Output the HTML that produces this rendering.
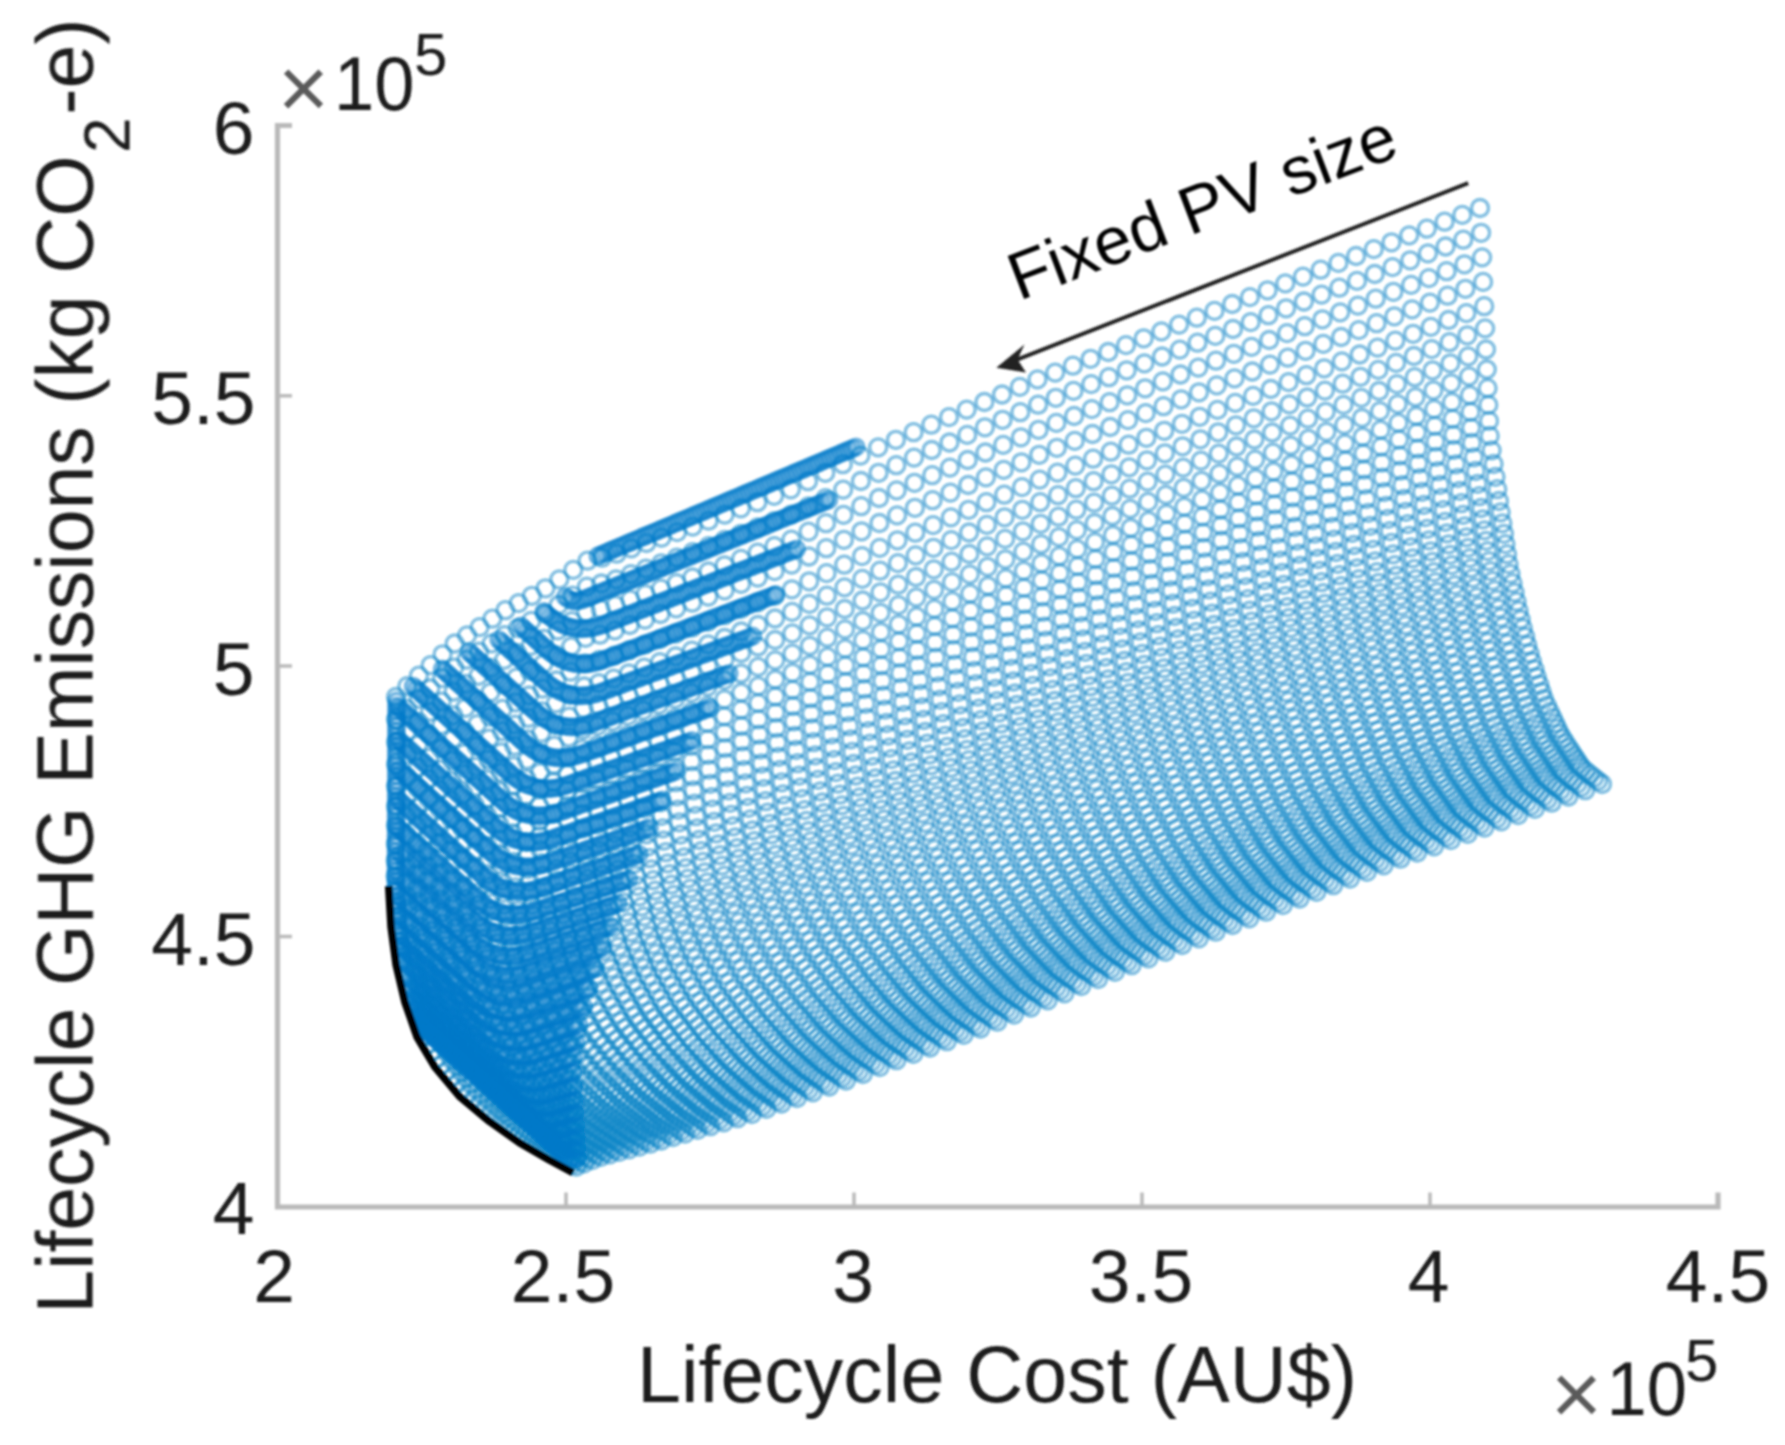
<!DOCTYPE html>
<html lang="en"><head><meta charset="utf-8"><title>Lifecycle GHG Emissions vs Lifecycle Cost</title>
<style>html,body{margin:0;padding:0;background:#fff}svg{display:block}text{font-family:"Liberation Sans",sans-serif;fill:#1a1a1a}.m{fill:none;stroke:none;marker-start:url(#c);marker-mid:url(#c);marker-end:url(#c)}.n{fill:none;stroke:none;marker-start:url(#d);marker-mid:url(#d);marker-end:url(#d)}</style></head><body>
<svg width="1785" height="1445" viewBox="0 0 1785 1445">
<defs><marker id="c" markerUnits="userSpaceOnUse" markerWidth="24" markerHeight="24" refX="12" refY="12" overflow="visible"><circle cx="12" cy="12" r="8.50" fill="none" stroke="#0f86c8" stroke-opacity="0.54" stroke-width="3.30"/></marker><marker id="d" markerUnits="userSpaceOnUse" markerWidth="24" markerHeight="24" refX="12" refY="12" overflow="visible"><circle cx="12" cy="12" r="7.7" fill="none" stroke="#007aca" stroke-opacity="0.54" stroke-width="3.8"/></marker><filter id="bl" x="-2%" y="-2%" width="104%" height="104%"><feGaussianBlur stdDeviation="0.85"/></filter></defs>
<rect width="1785" height="1445" fill="#fff"/>
<g filter="url(#bl)">
<g stroke="#b9b9b9" stroke-width="5.2" fill="none">
<path d="M292 125.5H277.5V1207H1718V1192.5"/>
</g>
<g stroke="#b9b9b9" stroke-width="3.5" fill="none">
<path d="M277.5 395.8H292"/>
<path d="M277.5 666.0H292"/>
<path d="M277.5 936.5H292"/>
<path d="M566.0 1207V1192.5"/>
<path d="M854.0 1207V1192.5"/>
<path d="M1142.0 1207V1192.5"/>
<path d="M1430.0 1207V1192.5"/>
</g>
<g id="sheetA">
<polyline class="m" points="1480.0,208.0 1462.3,214.9 1444.6,221.7 1426.9,228.6 1409.2,235.4 1391.5,242.3 1373.8,249.1 1356.1,256.0 1338.4,262.9 1320.7,269.7 1303.0,276.6 1285.3,283.4 1267.6,290.3 1249.9,297.1 1232.2,304.0 1214.5,310.9 1196.8,317.7 1179.1,324.6 1161.4,331.4 1143.7,338.3 1126.0,345.1 1108.3,352.0 1090.6,358.8 1072.9,365.7 1055.2,372.6 1037.5,379.4 1019.8,386.9 1002.1,394.5 984.4,402.0 966.7,409.6 949.0,417.1 931.3,424.7 913.6,432.2 895.9,439.8 878.2,447.4 860.5,455.6 842.8,464.2 825.3,472.8 808.0,481.2 790.9,489.4 774.1,495.8 757.4,502.2 740.9,508.4 724.7,514.6 708.6,520.7 692.7,526.6 677.1,532.1 661.7,537.6 646.4,543.0 631.4,548.4 616.6,553.7 602.0,557.7 587.5,560.7 573.3,569.9 559.3,579.4 545.5,588.3 531.9,595.8 518.6,603.1 505.4,610.2 492.4,618.7 479.6,627.1 467.1,635.4 454.7,643.5 442.6,654.3 430.6,665.1 418.9,675.7 407.3,686.1 396.0,697.0"/>
<polyline class="m" points="1481.1,232.8 1463.3,239.7 1445.6,246.5 1427.9,253.4 1410.2,260.3 1392.5,267.1 1374.7,274.0 1357.0,280.9 1339.3,287.7 1321.6,294.6 1303.9,301.5 1286.1,308.3 1268.4,315.2 1250.7,322.1 1233.0,329.0 1215.3,335.9 1197.5,342.7 1179.8,349.6 1162.1,356.5 1144.4,363.4 1126.7,370.3 1108.9,377.2 1091.2,384.1 1073.5,390.9 1055.8,397.8 1038.1,404.7 1020.3,412.2 1002.6,419.8 984.9,427.3 967.2,434.9 949.5,442.5 931.7,450.0 914.0,457.6 896.3,465.2 878.6,472.8 860.9,481.0 843.2,489.6 825.6,498.1 808.3,506.5 791.2,514.6 774.2,521.1 757.5,527.5 741.0,533.8 724.6,540.0 708.5,546.2 692.6,552.1 676.8,557.7 661.3,563.3 646.0,568.7 630.9,574.1 616.0,579.4 601.3,583.5 586.9,586.6 572.6,595.6 558.6,605.0 544.8,613.7 531.2,620.9 517.8,628.1 504.7,635.2 491.7,643.4 479.0,651.6 466.5,659.7 454.2,667.6 442.1,678.1 430.3,688.5 418.6,698.8 407.2,708.9 396.0,719.5"/>
<polyline class="m" points="1482.1,257.4 1464.4,264.3 1446.6,271.2 1428.9,278.1 1411.1,284.9 1393.4,291.8 1375.7,298.7 1357.9,305.6 1340.2,312.4 1322.4,319.3 1304.7,326.2 1287.0,333.1 1269.2,340.0 1251.5,346.9 1233.8,353.8 1216.0,360.7 1198.3,367.6 1180.5,374.5 1162.8,381.4 1145.1,388.3 1127.3,395.3 1109.6,402.2 1091.8,409.1 1074.1,416.0 1056.4,422.9 1038.6,429.8 1020.9,437.3 1003.2,444.9 985.4,452.5 967.7,460.0 949.9,467.6 932.2,475.2 914.5,482.8 896.7,490.4 879.0,498.0 861.2,506.2 843.5,514.8 826.0,523.2 808.6,531.6 791.4,539.7 774.4,546.2 757.6,552.6 741.0,558.9 724.6,565.3 708.4,571.5 692.4,577.5 676.5,583.1 660.9,588.7 645.5,594.2 630.3,599.6 615.4,605.0 600.7,609.2 586.2,612.3 571.9,621.1 557.9,630.3 544.1,638.8 530.5,646.0 517.1,653.0 504.0,659.9 491.1,667.9 478.4,675.9 466.0,683.8 453.7,691.5 441.7,701.7 430.0,711.8 418.4,721.8 407.1,731.6 396.0,741.9"/>
<polyline class="m" points="1483.1,281.9 1465.4,288.8 1447.6,295.7 1429.9,302.6 1412.1,309.4 1394.3,316.3 1376.6,323.2 1358.8,330.1 1341.1,337.0 1323.3,343.9 1305.6,350.8 1287.8,357.7 1270.0,364.6 1252.3,371.5 1234.5,378.4 1216.8,385.4 1199.0,392.3 1181.2,399.3 1163.5,406.2 1145.7,413.1 1128.0,420.1 1110.2,427.0 1092.5,434.0 1074.7,440.9 1056.9,447.8 1039.2,454.8 1021.4,462.3 1003.7,469.9 985.9,477.4 968.2,485.0 950.4,492.6 932.6,500.2 914.9,507.8 897.1,515.4 879.4,523.0 861.6,531.3 843.9,539.8 826.3,548.2 808.9,556.5 791.7,564.6 774.6,571.1 757.8,577.6 741.1,583.9 724.6,590.3 708.3,596.6 692.2,602.7 676.2,608.4 660.5,614.0 645.0,619.6 629.8,625.0 614.8,630.4 600.0,634.7 585.5,637.9 571.2,646.5 557.2,655.5 543.4,663.8 529.8,670.8 516.4,677.7 503.3,684.5 490.5,692.3 477.8,700.1 465.4,707.8 453.3,715.3 441.3,725.1 429.6,734.9 418.2,744.6 407.0,754.2 396.0,764.1"/>
<polyline class="m" points="1484.2,306.2 1466.4,313.1 1448.6,320.0 1430.8,326.9 1413.1,333.8 1395.3,340.7 1377.5,347.6 1359.7,354.5 1341.9,361.4 1324.2,368.3 1306.4,375.2 1288.6,382.1 1270.8,389.0 1253.1,395.9 1235.3,402.9 1217.5,409.9 1199.7,416.8 1182.0,423.8 1164.2,430.8 1146.4,437.8 1128.6,444.7 1110.8,451.7 1093.1,458.7 1075.3,465.6 1057.5,472.6 1039.7,479.6 1022.0,487.1 1004.2,494.7 986.4,502.2 968.6,509.8 950.9,517.4 933.1,525.1 915.3,532.7 897.5,540.3 879.7,547.9 862.0,556.1 844.2,564.7 826.6,573.1 809.2,581.3 791.9,589.3 774.8,595.9 757.9,602.3 741.2,608.8 724.6,615.2 708.2,621.6 692.0,627.7 675.9,633.5 660.1,639.1 644.6,644.7 629.3,650.2 614.2,655.6 599.4,660.0 584.9,663.3 570.5,671.7 556.5,680.5 542.6,688.6 529.1,695.5 515.7,702.3 502.6,708.9 489.8,716.5 477.2,724.1 464.9,731.6 452.8,738.9 440.9,748.4 429.3,757.8 418.0,767.3 406.9,776.6 396.0,786.2"/>
<polyline class="m" points="1485.1,328.4 1467.3,335.3 1449.5,342.2 1431.7,349.1 1413.9,356.0 1396.1,362.9 1378.3,369.9 1360.5,376.8 1342.7,383.7 1324.9,390.6 1307.2,397.5 1289.4,404.4 1271.6,411.3 1253.8,418.3 1236.0,425.3 1218.2,432.3 1200.4,439.3 1182.6,446.3 1164.8,453.3 1147.0,460.3 1129.2,467.3 1111.4,474.3 1093.6,481.2 1075.8,488.2 1058.0,495.2 1040.2,502.2 1022.4,509.8 1004.6,517.3 986.9,524.9 969.1,532.5 951.3,540.1 933.5,547.8 915.7,555.4 897.9,563.1 880.1,570.7 862.3,578.9 844.5,587.4 826.9,595.7 809.4,603.9 792.1,611.9 775.0,618.5 758.0,625.0 741.2,631.5 724.6,638.0 708.1,644.4 691.8,650.6 675.7,656.4 659.8,662.1 644.2,667.7 628.8,673.3 613.7,678.7 598.8,683.1 584.2,686.5 569.9,694.8 555.8,703.3 542.0,711.3 528.4,718.0 515.1,724.7 502.0,731.2 489.2,738.7 476.6,746.1 464.4,753.3 452.3,760.5 440.5,769.7 429.0,778.8 417.7,788.0 406.7,797.0 396.0,806.4"/>
<polyline class="m" points="1486.0,349.5 1468.2,356.4 1450.4,363.3 1432.6,370.3 1414.7,377.2 1396.9,384.1 1379.1,391.0 1361.3,397.9 1343.5,404.9 1325.7,411.8 1307.9,418.7 1290.1,425.6 1272.2,432.5 1254.4,439.5 1236.6,446.5 1218.8,453.6 1201.0,460.6 1183.2,467.6 1165.4,474.6 1147.6,481.6 1129.7,488.7 1111.9,495.7 1094.1,502.7 1076.3,509.7 1058.5,516.7 1040.7,523.8 1022.9,531.3 1005.1,538.9 987.2,546.4 969.4,554.0 951.6,561.7 933.8,569.3 916.0,577.0 898.2,584.7 880.4,592.3 862.6,600.5 844.7,609.0 827.1,617.3 809.6,625.4 792.3,633.4 775.1,640.0 758.1,646.5 741.2,653.0 724.5,659.6 708.0,666.1 691.6,672.3 675.4,678.1 659.4,683.9 643.7,689.6 628.3,695.1 613.1,700.6 598.2,705.1 583.6,708.6 569.2,716.7 555.1,725.0 541.3,732.8 527.7,739.5 514.4,746.0 501.3,752.4 488.6,759.7 476.0,766.9 463.8,774.0 451.8,781.0 440.1,789.9 428.6,798.7 417.5,807.7 406.5,816.5 395.9,825.6"/>
<polyline class="m" points="1486.8,369.5 1469.0,376.4 1451.2,383.3 1433.4,390.3 1415.5,397.2 1397.7,404.1 1379.9,411.1 1362.0,418.0 1344.2,424.9 1326.4,431.8 1308.5,438.8 1290.7,445.7 1272.9,452.6 1255.1,459.6 1237.2,466.7 1219.4,473.7 1201.6,480.8 1183.7,487.8 1165.9,494.9 1148.1,501.9 1130.2,508.9 1112.4,516.0 1094.6,523.0 1076.8,530.1 1058.9,537.1 1041.1,544.2 1023.3,551.7 1005.4,559.3 987.6,566.8 969.8,574.4 952.0,582.1 934.1,589.8 916.3,597.4 898.5,605.1 880.6,612.8 862.8,621.0 845.0,629.4 827.3,637.7 809.8,645.8 792.4,653.7 775.2,660.4 758.1,666.9 741.2,673.5 724.4,680.1 707.8,686.6 691.4,692.9 675.1,698.8 659.0,704.6 643.3,710.3 627.8,715.9 612.6,721.4 597.6,725.9 583.0,729.5 568.6,737.4 554.4,745.6 540.6,753.2 527.0,759.8 513.7,766.2 500.7,772.5 488.0,779.7 475.5,786.7 463.3,793.6 451.3,800.4 439.7,809.0 428.3,817.6 417.2,826.3 406.4,834.9 395.8,843.8"/>
<polyline class="m" points="1487.6,388.2 1469.8,395.2 1451.9,402.1 1434.1,409.1 1416.3,416.0 1398.4,422.9 1380.6,429.9 1362.7,436.8 1344.9,443.7 1327.0,450.7 1309.2,457.6 1291.3,464.5 1273.5,471.5 1255.6,478.5 1237.8,485.6 1220.0,492.6 1202.1,499.7 1184.3,506.8 1166.4,513.8 1148.6,520.9 1130.7,528.0 1112.9,535.0 1095.0,542.1 1077.2,549.1 1059.3,556.2 1041.5,563.3 1023.7,570.8 1005.8,578.4 988.0,586.0 970.1,593.6 952.3,601.2 934.4,608.9 916.6,616.6 898.7,624.3 880.9,632.0 863.0,640.2 845.2,648.6 827.5,656.9 809.9,664.9 792.5,672.8 775.3,679.5 758.2,686.1 741.2,692.6 724.4,699.3 707.7,705.9 691.2,712.2 674.8,718.1 658.7,724.0 642.9,729.7 627.3,735.3 612.1,740.9 597.1,745.5 582.4,749.1 568.0,756.9 553.8,764.9 540.0,772.4 526.4,778.8 513.1,785.2 500.1,791.4 487.4,798.4 474.9,805.2 462.8,812.0 450.9,818.6 439.3,827.0 428.0,835.3 416.9,843.8 406.2,852.2 395.7,860.8"/>
<polyline class="m" points="1488.3,404.9 1470.5,411.9 1452.6,418.8 1434.8,425.8 1416.9,432.7 1399.0,439.6 1381.2,446.6 1363.3,453.5 1345.5,460.5 1327.6,467.4 1309.7,474.4 1291.9,481.3 1274.0,488.3 1256.2,495.3 1238.3,502.4 1220.4,509.5 1202.6,516.6 1184.7,523.6 1166.9,530.7 1149.0,537.8 1131.1,544.9 1113.3,552.0 1095.4,559.0 1077.6,566.1 1059.7,573.2 1041.8,580.3 1024.0,587.9 1006.1,595.4 988.3,603.0 970.4,610.6 952.5,618.3 934.7,626.0 916.8,633.7 899.0,641.4 881.1,649.1 863.3,657.3 845.4,665.7 827.7,673.9 810.1,681.9 792.7,689.8 775.4,696.5 758.2,703.1 741.2,709.7 724.3,716.4 707.6,723.0 691.0,729.4 674.5,735.3 658.4,741.2 642.5,747.0 626.9,752.6 611.6,758.2 596.6,762.9 581.9,766.5 567.4,774.2 553.3,782.0 539.4,789.4 525.9,795.8 512.6,802.0 499.6,808.1 486.9,815.0 474.5,821.7 462.3,828.3 450.5,834.8 439.0,843.0 427.7,851.1 416.7,859.4 406.0,867.5 395.6,876.0"/>
<polyline class="m" points="1489.0,420.9 1471.1,427.8 1453.3,434.8 1435.4,441.7 1417.5,448.7 1399.7,455.6 1381.8,462.6 1363.9,469.5 1346.1,476.5 1328.2,483.4 1310.3,490.4 1292.5,497.3 1274.6,504.3 1256.7,511.3 1238.9,518.4 1221.0,525.5 1203.1,532.6 1185.3,539.7 1167.4,546.8 1149.5,553.9 1131.6,561.0 1113.8,568.1 1095.9,575.2 1078.0,582.3 1060.2,589.4 1042.3,596.6 1024.4,604.1 1006.6,611.7 988.7,619.3 970.8,626.8 953.0,634.6 935.1,642.3 917.2,650.0 899.4,657.7 881.5,665.4 863.6,673.6 845.7,682.0 828.0,690.2 810.4,698.2 793.0,706.0 775.6,712.7 758.4,719.4 741.4,726.0 724.5,732.7 707.7,739.4 691.0,745.8 674.5,751.8 658.3,757.7 642.4,763.5 626.7,769.2 611.4,774.7 596.4,779.5 581.6,783.1 567.2,790.7 553.0,798.4 539.1,805.7 525.6,812.0 512.3,818.1 499.3,824.1 486.7,830.9 474.3,837.5 462.2,843.9 450.4,850.3 438.9,858.2 427.7,866.1 416.8,874.2 406.2,882.2 395.9,890.4"/>
<polyline class="m" points="1489.7,435.9 1471.8,442.9 1453.9,449.8 1436.1,456.8 1418.2,463.7 1400.3,470.7 1382.5,477.7 1364.6,484.6 1346.7,491.6 1328.9,498.5 1311.0,505.5 1293.1,512.4 1275.3,519.4 1257.4,526.5 1239.5,533.6 1221.6,540.7 1203.8,547.8 1185.9,554.9 1168.0,562.1 1150.2,569.2 1132.3,576.3 1114.4,583.4 1096.6,590.5 1078.7,597.7 1060.8,604.8 1043.0,611.9 1025.1,619.5 1007.2,627.0 989.4,634.6 971.5,642.2 953.6,649.9 935.8,657.6 917.9,665.4 900.0,673.1 882.2,680.8 864.3,689.0 846.4,697.3 828.7,705.5 811.1,713.5 793.6,721.3 776.3,728.0 759.1,734.7 742.0,741.3 725.0,748.1 708.2,754.8 691.5,761.2 674.9,767.3 658.7,773.2 642.7,779.0 627.0,784.7 611.7,790.3 596.6,795.1 581.9,798.9 567.4,806.3 553.3,813.9 539.4,821.0 525.9,827.2 512.6,833.3 499.7,839.2 487.0,845.8 474.7,852.3 462.6,858.7 450.9,864.9 439.4,872.6 428.3,880.3 417.5,888.3 406.9,896.1 396.7,904.1"/>
<polyline class="m" points="1491.6,450.4 1473.8,457.3 1455.9,464.3 1438.0,471.2 1420.1,478.2 1402.2,485.2 1384.3,492.1 1366.4,499.1 1348.5,506.1 1330.6,513.0 1312.8,520.0 1294.9,527.0 1277.0,533.9 1259.1,541.0 1241.2,548.2 1223.3,555.3 1205.4,562.4 1187.5,569.6 1169.7,576.7 1151.8,583.8 1133.9,591.0 1116.0,598.1 1098.1,605.2 1080.2,612.4 1062.3,619.5 1044.4,626.7 1026.6,634.2 1008.7,641.8 990.8,649.4 972.9,657.0 955.0,664.7 937.1,672.4 919.2,680.2 901.3,687.9 883.5,695.7 865.6,703.8 847.7,712.2 829.9,720.3 812.3,728.3 794.8,736.0 777.4,742.8 760.1,749.5 743.0,756.1 726.0,762.9 709.1,769.7 692.3,776.2 675.7,782.2 659.4,788.2 643.4,794.0 627.7,799.8 612.3,805.4 597.2,810.2 582.4,814.0 567.9,821.3 553.7,828.8 539.9,835.8 526.3,842.0 513.1,847.9 500.1,853.8 487.5,860.3 475.2,866.7 463.1,872.9 451.4,879.0 440.0,886.5 428.9,894.0 418.1,901.8 407.7,909.5 397.5,917.3"/>
<polyline class="m" points="1493.6,464.0 1475.7,471.0 1457.8,478.0 1439.9,484.9 1422.0,491.9 1404.1,498.9 1386.2,505.8 1368.3,512.8 1350.4,519.8 1332.5,526.8 1314.6,533.7 1296.7,540.7 1278.8,547.7 1260.9,554.8 1243.0,561.9 1225.0,569.1 1207.1,576.2 1189.2,583.4 1171.3,590.5 1153.4,597.7 1135.5,604.9 1117.6,612.0 1099.7,619.2 1081.8,626.3 1063.9,633.5 1046.0,640.6 1028.1,648.2 1010.2,655.8 992.3,663.3 974.4,670.9 956.5,678.7 938.6,686.4 920.7,694.2 902.8,701.9 884.9,709.7 867.0,717.8 849.0,726.2 831.3,734.3 813.6,742.2 796.1,750.0 778.6,756.8 761.3,763.5 744.2,770.1 727.1,777.0 710.2,783.8 693.4,790.3 676.7,796.4 660.3,802.4 644.2,808.3 628.5,814.0 613.0,819.7 597.9,824.5 583.1,828.4 568.6,835.6 554.4,842.9 540.5,849.9 527.0,855.9 513.7,861.8 500.8,867.6 488.2,874.0 475.9,880.2 463.9,886.3 452.2,892.3 440.8,899.7 429.8,907.0 419.0,914.6 408.6,922.1 398.5,929.8"/>
<polyline class="m" points="1495.5,476.9 1477.6,483.9 1459.7,490.9 1441.8,497.9 1423.9,504.9 1405.9,511.8 1388.0,518.8 1370.1,525.8 1352.2,532.8 1334.3,539.7 1316.4,546.7 1298.5,553.7 1280.6,560.7 1262.6,567.8 1244.7,575.0 1226.8,582.1 1208.9,589.3 1191.0,596.5 1173.1,603.6 1155.2,610.8 1137.3,618.0 1119.4,625.1 1101.4,632.3 1083.5,639.5 1065.6,646.6 1047.7,653.8 1029.8,661.4 1011.9,669.0 994.0,676.6 976.1,684.2 958.1,691.9 940.2,699.7 922.3,707.4 904.4,715.2 886.5,723.0 868.6,731.1 850.7,739.4 832.9,747.6 815.2,755.4 797.6,763.2 780.2,769.9 762.9,776.7 745.7,783.4 728.6,790.3 711.6,797.1 694.7,803.6 678.0,809.7 661.6,815.8 645.5,821.7 629.7,827.4 614.2,833.1 599.1,838.0 584.2,841.9 569.7,849.0 555.5,856.2 541.6,863.1 528.1,869.0 514.9,874.9 501.9,880.6 489.3,886.9 477.1,893.0 465.1,899.0 453.5,904.9 442.1,912.1 431.1,919.2 420.4,926.7 410.1,934.0 400.0,941.6"/>
<polyline class="m" points="1497.3,489.2 1479.4,496.2 1461.4,503.2 1443.5,510.1 1425.6,517.1 1407.7,524.1 1389.8,531.1 1371.8,538.1 1353.9,545.0 1336.0,552.0 1318.1,559.0 1300.2,566.0 1282.3,573.0 1264.3,580.1 1246.4,587.3 1228.5,594.5 1210.6,601.7 1192.7,608.8 1174.7,616.0 1156.8,623.2 1138.9,630.4 1121.0,637.6 1103.1,644.8 1085.2,651.9 1067.2,659.1 1049.3,666.3 1031.4,673.9 1013.5,681.5 995.6,689.0 977.6,696.7 959.7,704.4 941.8,712.2 923.9,720.0 906.0,727.7 888.1,735.5 870.1,743.6 852.2,751.9 834.4,760.1 816.7,767.9 799.1,775.6 781.7,782.4 764.3,789.2 747.1,795.9 730.0,802.8 712.9,809.7 696.0,816.2 679.2,822.4 662.8,828.4 646.6,834.3 630.8,840.1 615.3,845.8 600.1,850.8 585.3,854.7 570.8,861.7 556.6,868.8 542.7,875.6 529.2,881.5 515.9,887.3 503.0,892.9 490.4,899.1 478.2,905.1 466.3,911.0 454.6,916.8 443.4,923.8 432.4,930.8 421.8,938.1 411.5,945.3 401.5,952.7"/>
<polyline class="m" points="1499.0,501.0 1481.1,508.0 1463.2,514.9 1445.2,521.9 1427.3,528.9 1409.4,535.9 1391.5,542.9 1373.5,549.9 1355.6,556.9 1337.7,563.9 1319.8,570.9 1301.8,577.8 1283.9,584.8 1266.0,592.0 1248.1,599.2 1230.1,606.4 1212.2,613.6 1194.3,620.8 1176.4,628.0 1158.4,635.2 1140.5,642.4 1122.6,649.5 1104.7,656.7 1086.7,663.9 1068.8,671.1 1050.9,678.4 1033.0,685.9 1015.1,693.5 997.1,701.1 979.2,708.7 961.3,716.5 943.4,724.2 925.4,732.0 907.5,739.8 889.6,747.6 871.7,755.7 853.7,764.0 835.9,772.1 818.2,779.9 800.6,787.6 783.1,794.4 765.7,801.2 748.5,807.9 731.3,814.9 714.3,821.8 697.3,828.4 680.5,834.6 664.0,840.6 647.8,846.6 631.9,852.4 616.4,858.1 601.2,863.1 586.4,867.0 571.8,873.9 557.6,881.0 543.8,887.6 530.2,893.5 517.0,899.2 504.1,904.8 491.5,910.9 479.3,916.8 467.4,922.6 455.8,928.2 444.6,935.1 433.7,941.9 423.1,949.1 412.8,956.2 402.9,963.4"/>
<polyline class="m" points="1500.7,512.3 1482.8,519.3 1464.9,526.3 1447.0,533.3 1429.1,540.3 1411.1,547.3 1393.2,554.3 1375.3,561.3 1357.4,568.3 1339.5,575.2 1321.6,582.2 1303.7,589.2 1285.7,596.2 1267.8,603.4 1249.9,610.6 1232.0,617.8 1214.1,625.0 1196.2,632.2 1178.3,639.4 1160.3,646.6 1142.4,653.8 1124.5,661.0 1106.6,668.2 1088.7,675.4 1070.8,682.6 1052.9,689.9 1034.9,697.4 1017.0,705.0 999.1,712.6 981.2,720.2 963.3,728.0 945.4,735.8 927.5,743.6 909.5,751.3 891.6,759.1 873.7,767.2 855.8,775.5 838.0,783.6 820.3,791.4 802.7,799.1 785.2,805.9 767.8,812.7 750.5,819.4 733.3,826.4 716.3,833.3 699.3,840.0 682.4,846.2 665.9,852.2 649.7,858.2 633.8,864.0 618.3,869.7 603.1,874.8 588.2,878.8 573.7,885.6 559.5,892.5 545.6,899.1 532.1,904.9 518.9,910.5 506.1,916.0 493.5,922.1 481.3,927.9 469.5,933.6 457.9,939.1 446.7,945.8 435.9,952.5 425.3,959.6 415.1,966.5 405.3,973.6"/>
<polyline class="m" points="1502.4,523.3 1484.5,530.3 1466.6,537.3 1448.7,544.3 1430.8,551.3 1412.9,558.3 1394.9,565.2 1377.0,572.2 1359.1,579.2 1341.2,586.2 1323.3,593.2 1305.4,600.2 1287.5,607.2 1269.6,614.4 1251.7,621.6 1233.8,628.8 1215.9,636.0 1198.0,643.2 1180.1,650.4 1162.2,657.7 1144.3,664.9 1126.4,672.1 1108.5,679.3 1090.6,686.5 1072.7,693.7 1054.8,701.0 1036.8,708.5 1018.9,716.1 1001.0,723.7 983.1,731.3 965.2,739.1 947.3,746.9 929.4,754.7 911.5,762.5 893.6,770.3 875.7,778.4 857.8,786.6 840.0,794.7 822.3,802.5 804.7,810.1 787.2,817.0 769.8,823.8 752.5,830.5 735.3,837.5 718.2,844.5 701.2,851.1 684.3,857.3 667.7,863.4 651.5,869.4 635.7,875.3 620.1,881.0 604.9,886.0 590.0,890.1 575.5,896.8 561.3,903.7 547.5,910.1 533.9,915.8 520.8,921.4 507.9,926.9 495.4,932.8 483.3,938.6 471.4,944.1 459.9,949.6 448.8,956.2 438.0,962.7 427.5,969.6 417.4,976.4 407.6,983.4"/>
<polyline class="m" points="1504.0,533.8 1486.1,540.8 1468.2,547.8 1450.3,554.8 1432.4,561.8 1414.5,568.8 1396.6,575.8 1378.7,582.8 1360.8,589.8 1342.9,596.8 1325.0,603.8 1307.1,610.8 1289.2,617.8 1271.3,625.0 1253.4,632.2 1235.5,639.4 1217.6,646.6 1199.7,653.9 1181.8,661.1 1164.0,668.3 1146.1,675.5 1128.2,682.8 1110.3,690.0 1092.4,697.2 1074.5,704.4 1056.6,711.7 1038.7,719.3 1020.8,726.8 1002.9,734.4 985.0,742.0 967.1,749.8 949.2,757.6 931.3,765.4 913.4,773.2 895.5,781.0 877.6,789.1 859.7,797.4 841.9,805.4 824.2,813.1 806.6,820.8 789.1,827.6 771.7,834.4 754.4,841.2 737.2,848.2 720.1,855.2 703.0,861.9 686.1,868.1 669.5,874.2 653.3,880.2 637.4,886.1 621.8,891.8 606.6,896.9 591.8,901.0 577.2,907.6 563.1,914.4 549.2,920.8 535.7,926.4 522.5,932.0 509.7,937.4 497.3,943.2 485.1,948.8 473.3,954.3 461.9,959.7 450.8,966.1 440.0,972.5 429.6,979.3 419.5,986.0 409.8,992.8"/>
<polyline class="m" points="1505.5,544.1 1487.7,551.1 1469.8,558.1 1451.9,565.1 1434.0,572.1 1416.1,579.1 1398.2,586.1 1380.3,593.1 1362.5,600.1 1344.6,607.1 1326.7,614.1 1308.8,621.1 1290.9,628.1 1273.0,635.3 1255.2,642.5 1237.3,649.7 1219.4,657.0 1201.5,664.2 1183.6,671.4 1165.7,678.7 1147.9,685.9 1130.0,693.1 1112.1,700.4 1094.2,707.6 1076.3,714.8 1058.4,722.1 1040.6,729.7 1022.7,737.2 1004.8,744.8 986.9,752.4 969.0,760.2 951.1,768.0 933.3,775.8 915.4,783.6 897.5,791.4 879.6,799.5 861.7,807.7 843.9,815.8 826.2,823.5 808.6,831.1 791.1,837.9 773.7,844.8 756.4,851.6 739.2,858.6 722.0,865.6 705.0,872.3 688.0,878.6 671.4,884.7 655.2,890.7 639.3,896.6 623.7,902.3 608.5,907.5 593.6,911.5 579.1,918.1 564.9,924.8 551.1,931.1 537.6,936.7 524.5,942.2 511.7,947.5 499.2,953.3 487.1,958.8 475.4,964.2 464.0,969.5 452.9,975.8 442.2,982.0 431.8,988.7 421.8,995.3 412.1,1001.9"/>
<polyline class="m" points="1507.1,554.2 1489.2,561.2 1471.3,568.2 1453.5,575.2 1435.6,582.2 1417.8,589.2 1399.9,596.2 1382.0,603.2 1364.2,610.2 1346.3,617.1 1328.5,624.1 1310.6,631.1 1292.7,638.1 1274.9,645.3 1257.0,652.6 1239.2,659.8 1221.3,667.0 1203.4,674.3 1185.6,681.5 1167.7,688.7 1149.9,696.0 1132.0,703.2 1114.1,710.5 1096.3,717.7 1078.4,724.9 1060.6,732.2 1042.7,739.8 1024.8,747.3 1007.0,754.9 989.1,762.5 971.3,770.3 953.4,778.1 935.5,785.9 917.7,793.7 899.8,801.5 882.0,809.6 864.1,817.8 846.3,825.8 828.6,833.5 811.1,841.1 793.6,847.9 776.1,854.8 758.8,861.6 741.6,868.7 724.5,875.7 707.4,882.4 690.4,888.7 673.8,894.8 657.6,900.8 641.7,906.7 626.1,912.5 610.9,917.6 596.0,921.7 581.5,928.2 567.4,934.8 553.6,941.0 540.1,946.6 527.0,952.0 514.2,957.3 501.8,963.0 489.8,968.4 478.1,973.7 466.7,978.9 455.7,985.1 445.0,991.1 434.7,997.7 424.8,1004.2 415.2,1010.7"/>
<polyline class="m" points="1508.6,564.1 1490.7,571.1 1472.9,578.1 1455.0,585.1 1437.2,592.0 1419.4,599.0 1401.5,606.0 1383.7,613.0 1365.9,620.0 1348.0,627.0 1330.2,634.0 1312.3,641.0 1294.5,648.0 1276.7,655.2 1258.8,662.4 1241.0,669.7 1223.2,676.9 1205.3,684.1 1187.5,691.4 1169.7,698.6 1151.8,705.9 1134.0,713.1 1116.1,720.4 1098.3,727.6 1080.5,734.8 1062.6,742.1 1044.8,749.7 1027.0,757.2 1009.1,764.8 991.3,772.4 973.4,780.2 955.6,788.0 937.8,795.8 919.9,803.6 902.1,811.4 884.3,819.5 866.4,827.7 848.7,835.7 831.0,843.3 813.4,850.9 795.9,857.7 778.5,864.6 761.2,871.4 744.0,878.5 726.8,885.5 709.8,892.3 692.8,898.6 676.2,904.7 659.9,910.7 644.0,916.6 628.5,922.4 613.2,927.6 598.4,931.7 583.9,938.1 569.8,944.6 556.0,950.8 542.5,956.2 529.5,961.6 516.7,966.8 504.4,972.4 492.3,977.8 480.7,983.0 469.4,988.1 458.4,994.1 447.8,1000.1 437.6,1006.5 427.7,1012.9 418.1,1019.3"/>
<polyline class="m" points="1510.5,573.8 1492.7,580.8 1474.8,587.7 1457.0,594.7 1439.2,601.7 1421.4,608.7 1403.6,615.7 1385.7,622.7 1367.9,629.7 1350.1,636.7 1332.3,643.7 1314.4,650.7 1296.6,657.6 1278.8,664.8 1261.0,672.1 1243.2,679.3 1225.3,686.6 1207.5,693.8 1189.7,701.1 1171.9,708.3 1154.1,715.6 1136.2,722.8 1118.4,730.1 1100.6,737.3 1082.8,744.6 1064.9,751.9 1047.1,759.4 1029.3,767.0 1011.5,774.5 993.7,782.1 975.8,789.9 958.0,797.7 940.2,805.5 922.4,813.3 904.5,821.1 886.7,829.2 868.9,837.4 851.2,845.3 833.5,853.0 815.9,860.5 798.4,867.4 781.0,874.2 763.7,881.1 746.5,888.2 729.3,895.3 712.2,902.0 695.2,908.3 678.6,914.5 662.3,920.5 646.4,926.4 630.9,932.2 615.7,937.4 600.8,941.6 586.3,947.9 572.2,954.3 558.4,960.4 545.0,965.8 531.9,971.1 519.2,976.3 506.9,981.8 494.9,987.0 483.3,992.2 472.0,997.2 461.1,1003.1 450.6,1008.9 440.4,1015.2 430.5,1021.5 421.0,1027.7"/>
<polyline class="m" points="1512.6,583.2 1494.8,590.2 1477.0,597.2 1459.2,604.2 1441.4,611.2 1423.6,618.2 1405.8,625.2 1388.0,632.1 1370.2,639.1 1352.4,646.1 1334.6,653.1 1316.8,660.1 1299.0,667.1 1281.2,674.3 1263.4,681.5 1245.6,688.8 1227.8,696.0 1209.9,703.3 1192.1,710.5 1174.3,717.8 1156.5,725.0 1138.7,732.3 1120.9,739.5 1103.1,746.8 1085.3,754.0 1067.5,761.3 1049.7,768.9 1031.9,776.4 1014.1,784.0 996.3,791.5 978.5,799.3 960.7,807.2 942.9,815.0 925.1,822.8 907.3,830.6 889.5,838.6 871.7,846.8 854.0,854.7 836.4,862.3 818.8,869.8 801.3,876.7 783.9,883.6 766.6,890.4 749.3,897.5 732.2,904.6 715.1,911.4 698.1,917.7 681.4,923.9 665.2,929.9 649.2,935.9 633.7,941.6 618.5,946.9 603.6,951.1 589.2,957.3 575.0,963.6 561.3,969.6 547.9,975.0 534.9,980.2 522.2,985.3 509.9,990.8 497.9,995.9 486.4,1001.0 475.1,1005.9 464.3,1011.7 453.8,1017.3 443.6,1023.6 433.9,1029.7 424.4,1035.8"/>
<polyline class="m" points="1514.6,592.5 1496.9,599.5 1479.1,606.5 1461.3,613.5 1443.6,620.4 1425.8,627.4 1408.0,634.4 1390.3,641.4 1372.5,648.3 1354.7,655.3 1337.0,662.3 1319.2,669.2 1301.4,676.2 1283.7,683.4 1265.9,690.7 1248.2,697.9 1230.4,705.1 1212.6,712.4 1194.9,719.6 1177.1,726.9 1159.3,734.1 1141.6,741.4 1123.8,748.6 1106.0,755.9 1088.3,763.1 1070.5,770.4 1052.8,777.9 1035.0,785.5 1017.2,793.0 999.5,800.6 981.7,808.4 963.9,816.1 946.2,823.9 928.4,831.7 910.6,839.5 892.9,847.5 875.1,855.7 857.4,863.6 839.8,871.2 822.3,878.7 804.8,885.5 787.4,892.4 770.1,899.2 752.9,906.4 735.7,913.5 718.7,920.2 701.7,926.6 685.0,932.7 668.7,938.8 652.8,944.7 637.3,950.5 622.1,955.7 607.3,960.0 592.8,966.1 578.7,972.3 565.0,978.2 551.7,983.5 538.7,988.7 526.1,993.8 513.8,999.1 501.9,1004.2 490.4,1009.2 479.2,1014.0 468.4,1019.6 457.9,1025.2 447.9,1031.3 438.2,1037.3 428.8,1043.3"/>
<polyline class="m" points="1516.6,601.7 1498.9,608.6 1481.2,615.6 1463.4,622.6 1445.7,629.5 1428.0,636.5 1410.3,643.4 1392.5,650.4 1374.8,657.4 1357.1,664.3 1339.4,671.3 1321.6,678.2 1303.9,685.2 1286.2,692.4 1268.4,699.6 1250.7,706.9 1233.0,714.1 1215.3,721.4 1197.5,728.6 1179.8,735.8 1162.1,743.1 1144.4,750.3 1126.6,757.6 1108.9,764.8 1091.2,772.0 1073.4,779.3 1055.7,786.8 1038.0,794.3 1020.3,801.9 1002.5,809.4 984.8,817.2 967.1,825.0 949.3,832.8 931.6,840.6 913.9,848.3 896.2,856.3 878.4,864.5 860.8,872.3 843.2,879.9 825.7,887.3 808.3,894.2 790.9,901.1 773.6,907.9 756.4,915.0 739.2,922.1 722.2,928.9 705.2,935.2 688.5,941.4 672.3,947.5 656.4,953.4 640.8,959.2 625.7,964.5 610.9,968.7 596.4,974.8 582.4,980.9 568.7,986.7 555.4,992.0 542.4,997.1 529.8,1002.1 517.6,1007.3 505.8,1012.3 494.3,1017.2 483.2,1021.9 472.4,1027.4 462.0,1032.8 452.0,1038.8 442.4,1044.7 433.1,1050.6"/>
<polyline class="m" points="1518.6,610.7 1500.9,617.6 1483.2,624.6 1465.5,631.5 1447.8,638.5 1430.1,645.4 1412.5,652.4 1394.8,659.3 1377.1,666.3 1359.4,673.2 1341.7,680.2 1324.0,687.1 1306.3,694.1 1288.6,701.2 1270.9,708.5 1253.2,715.7 1235.5,722.9 1217.9,730.2 1200.2,737.4 1182.5,744.6 1164.8,751.9 1147.1,759.1 1129.4,766.3 1111.7,773.6 1094.0,780.8 1076.3,788.1 1058.6,795.6 1040.9,803.1 1023.2,810.6 1005.6,818.1 987.9,825.9 970.2,833.7 952.5,841.5 934.8,849.2 917.1,857.0 899.4,865.0 881.7,873.1 864.1,880.9 846.5,888.4 829.1,895.9 811.6,902.7 794.3,909.6 777.0,916.4 759.8,923.6 742.7,930.7 725.6,937.5 708.6,943.8 692.0,950.0 675.7,956.1 659.8,962.0 644.3,967.8 629.2,973.0 614.4,977.3 600.0,983.3 586.0,989.3 572.3,995.0 559.0,1000.2 546.1,1005.3 533.6,1010.2 521.4,1015.4 509.6,1020.3 498.1,1025.1 487.1,1029.8 476.4,1035.1 466.1,1040.4 456.1,1046.3 446.6,1052.0 437.4,1057.8"/>
<polyline class="m" points="1520.7,619.5 1503.0,626.4 1485.4,633.4 1467.7,640.3 1450.1,647.2 1432.4,654.2 1414.7,661.1 1397.1,668.0 1379.4,675.0 1361.8,681.9 1344.1,688.8 1326.5,695.8 1308.8,702.7 1291.2,709.9 1273.5,717.1 1255.9,724.3 1238.2,731.5 1220.6,738.8 1202.9,746.0 1185.3,753.2 1167.6,760.4 1150.0,767.7 1132.3,774.9 1114.7,782.1 1097.0,789.3 1079.4,796.6 1061.7,804.1 1044.1,811.6 1026.4,819.1 1008.8,826.6 991.1,834.3 973.5,842.1 955.8,849.9 938.2,857.6 920.5,865.4 902.9,873.4 885.2,881.4 867.6,889.2 850.1,896.7 832.7,904.1 815.3,911.0 797.9,917.8 780.7,924.6 763.5,931.8 746.4,938.9 729.3,945.7 712.3,952.0 695.7,958.2 679.4,964.3 663.6,970.2 648.1,976.0 633.0,981.3 618.2,985.5 603.8,991.5 589.8,997.4 576.2,1003.0 563.0,1008.2 550.1,1013.2 537.6,1018.0 525.5,1023.1 513.7,1027.9 502.3,1032.6 491.3,1037.2 480.7,1042.4 470.4,1047.6 460.6,1053.3 451.1,1059.0 441.9,1064.6"/>
<polyline class="m" points="1522.9,628.2 1505.3,635.1 1487.7,642.0 1470.1,648.9 1452.5,655.8 1434.9,662.8 1417.3,669.7 1399.7,676.6 1382.1,683.5 1364.5,690.4 1346.9,697.3 1329.3,704.2 1311.7,711.1 1294.1,718.3 1276.5,725.5 1258.9,732.7 1241.3,739.9 1223.7,747.1 1206.1,754.3 1188.5,761.5 1170.9,768.7 1153.3,776.0 1135.7,783.2 1118.0,790.4 1100.4,797.6 1082.8,804.8 1065.2,812.3 1047.6,819.7 1030.0,827.2 1012.4,834.7 994.8,842.4 977.2,850.2 959.6,857.9 942.0,865.7 924.4,873.4 906.8,881.3 889.2,889.4 871.7,897.2 854.2,904.6 836.8,911.9 819.4,918.8 802.1,925.6 784.9,932.4 767.7,939.6 750.6,946.7 733.6,953.5 716.6,959.8 700.0,966.0 683.7,972.1 667.9,978.0 652.4,983.7 637.3,989.0 622.6,993.3 608.3,999.1 594.3,1005.0 580.7,1010.5 567.5,1015.6 554.7,1020.5 542.2,1025.3 530.1,1030.3 518.4,1035.0 507.1,1039.6 496.2,1044.1 485.6,1049.2 475.4,1054.2 465.6,1059.9 456.2,1065.4 447.1,1070.9"/>
<polyline class="m" points="1525.2,636.8 1507.6,643.6 1490.1,650.5 1472.5,657.4 1455.0,664.3 1437.4,671.2 1419.8,678.1 1402.3,685.0 1384.7,691.9 1367.2,698.8 1349.6,705.7 1332.1,712.5 1314.5,719.4 1296.9,726.6 1279.4,733.8 1261.8,740.9 1244.3,748.1 1226.7,755.3 1209.1,762.5 1191.6,769.7 1174.0,776.9 1156.5,784.1 1138.9,791.3 1121.4,798.5 1103.8,805.7 1086.2,812.9 1068.7,820.3 1051.1,827.8 1033.6,835.2 1016.0,842.7 998.5,850.4 980.9,858.1 963.3,865.9 945.8,873.6 928.2,881.3 910.7,889.2 893.1,897.2 875.6,904.9 858.2,912.3 840.8,919.6 823.5,926.5 806.2,933.3 789.0,940.1 771.8,947.2 754.8,954.4 737.7,961.1 720.8,967.5 704.2,973.7 688.0,979.7 672.1,985.6 656.7,991.4 641.6,996.7 626.9,1000.9 612.6,1006.7 598.7,1012.4 585.1,1017.9 572.0,1022.9 559.2,1027.7 546.8,1032.5 534.8,1037.4 523.1,1042.0 511.8,1046.6 501.0,1050.9 490.5,1055.9 480.3,1060.8 470.6,1066.3 461.2,1071.7 452.3,1077.1"/>
<polyline class="m" points="1527.4,645.2 1509.9,652.0 1492.4,658.9 1474.9,665.8 1457.3,672.7 1439.8,679.5 1422.3,686.4 1404.8,693.3 1387.3,700.1 1369.8,707.0 1352.3,713.9 1334.8,720.7 1317.2,727.6 1299.7,734.7 1282.2,741.9 1264.7,749.1 1247.2,756.2 1229.7,763.4 1212.2,770.6 1194.7,777.8 1177.2,784.9 1159.6,792.1 1142.1,799.3 1124.6,806.5 1107.1,813.6 1089.6,820.9 1072.1,828.3 1054.6,835.7 1037.1,843.1 1019.5,850.5 1002.0,858.2 984.5,865.9 967.0,873.7 949.5,881.4 932.0,889.1 914.5,896.9 897.0,904.9 879.5,912.6 862.1,919.9 844.7,927.2 827.5,934.0 810.2,940.8 793.0,947.6 775.9,954.8 758.8,961.9 741.8,968.7 724.9,975.0 708.3,981.2 692.1,987.2 676.3,993.1 660.9,998.9 645.8,1004.2 631.2,1008.4 616.9,1014.1 603.0,1019.8 589.5,1025.1 576.4,1030.1 563.6,1034.9 551.3,1039.5 539.3,1044.4 527.7,1048.9 516.5,1053.3 505.7,1057.6 495.2,1062.5 485.2,1067.2 475.5,1072.6 466.2,1077.9 457.3,1083.2"/>
<polyline class="m" points="1529.6,653.4 1512.1,660.3 1494.6,667.1 1477.2,674.0 1459.7,680.8 1442.2,687.6 1424.8,694.5 1407.3,701.3 1389.8,708.2 1372.3,715.0 1354.9,721.9 1337.4,728.7 1319.9,735.6 1302.5,742.7 1285.0,749.8 1267.5,757.0 1250.1,764.2 1232.6,771.3 1215.1,778.5 1197.7,785.6 1180.2,792.8 1162.7,800.0 1145.3,807.1 1127.8,814.3 1110.3,821.4 1092.9,828.7 1075.4,836.0 1057.9,843.4 1040.5,850.8 1023.0,858.2 1005.5,865.9 988.1,873.6 970.6,881.3 953.1,889.0 935.7,896.6 918.2,904.5 900.7,912.4 883.3,920.1 865.9,927.4 848.6,934.6 831.4,941.4 814.2,948.2 797.0,955.0 779.9,962.1 762.8,969.3 745.8,976.1 728.9,982.4 712.3,988.5 696.2,994.6 680.4,1000.5 665.0,1006.2 649.9,1011.5 635.3,1015.8 621.1,1021.4 607.2,1026.9 593.7,1032.2 580.7,1037.1 568.0,1041.8 555.7,1046.4 543.7,1051.2 532.2,1055.7 521.0,1060.0 510.3,1064.2 499.9,1068.9 489.9,1073.5 480.3,1078.8 471.1,1084.0 462.2,1089.2"/>
<polyline class="m" points="1531.9,661.5 1514.5,668.3 1497.1,675.1 1479.7,681.9 1462.3,688.7 1444.8,695.6 1427.4,702.4 1410.0,709.2 1392.6,716.0 1375.2,722.8 1357.8,729.6 1340.3,736.4 1322.9,743.3 1305.5,750.3 1288.1,757.5 1270.7,764.6 1253.3,771.7 1235.8,778.9 1218.4,786.0 1201.0,793.2 1183.6,800.3 1166.2,807.4 1148.7,814.6 1131.3,821.7 1113.9,828.8 1096.5,836.0 1079.1,843.4 1061.7,850.7 1044.2,858.1 1026.8,865.5 1009.4,873.1 992.0,880.8 974.6,888.4 957.2,896.1 939.7,903.7 922.3,911.6 904.9,919.4 887.5,927.1 870.2,934.3 852.9,941.5 835.7,948.3 818.5,955.0 801.4,961.8 784.3,969.0 767.3,976.1 750.3,982.8 733.4,989.1 716.9,995.3 700.7,1001.3 684.9,1007.2 669.6,1012.9 654.6,1018.2 640.0,1022.5 625.8,1028.0 612.0,1033.5 598.5,1038.7 585.5,1043.5 572.8,1048.1 560.6,1052.7 548.7,1057.3 537.2,1061.7 526.1,1065.9 515.4,1070.0 505.1,1074.6 495.2,1079.1 485.6,1084.3 476.5,1089.4 467.7,1094.4"/>
<polyline class="m" points="1534.5,669.4 1517.1,676.1 1499.7,682.9 1482.4,689.7 1465.0,696.5 1447.6,703.3 1430.3,710.0 1412.9,716.8 1395.5,723.6 1378.2,730.4 1360.8,737.2 1343.4,743.9 1326.1,750.7 1308.7,757.8 1291.4,764.9 1274.0,772.0 1256.6,779.1 1239.3,786.2 1221.9,793.3 1204.5,800.4 1187.2,807.5 1169.8,814.6 1152.4,821.7 1135.1,828.8 1117.7,835.9 1100.3,843.1 1083.0,850.4 1065.6,857.7 1048.2,865.0 1030.9,872.4 1013.5,880.0 996.1,887.6 978.8,895.3 961.4,902.9 944.0,910.5 926.7,918.3 909.3,926.1 892.0,933.7 874.7,940.9 857.5,948.0 840.3,954.8 823.2,961.5 806.1,968.3 789.0,975.4 772.0,982.5 755.1,989.3 738.2,995.5 721.6,1001.7 705.5,1007.7 689.8,1013.5 674.4,1019.2 659.5,1024.5 644.9,1028.8 630.7,1034.2 617.0,1039.6 603.6,1044.7 590.6,1049.4 578.0,1054.0 565.8,1058.5 553.9,1063.1 542.5,1067.3 531.5,1071.5 520.8,1075.5 510.6,1079.9 500.7,1084.3 491.3,1089.3 482.2,1094.3 473.5,1099.2"/>
<polyline class="m" points="1536.9,677.1 1519.6,683.8 1502.3,690.6 1485.0,697.3 1467.7,704.0 1450.4,710.8 1433.1,717.5 1415.7,724.3 1398.4,731.0 1381.1,737.8 1363.8,744.5 1346.5,751.3 1329.2,758.0 1311.9,765.0 1294.5,772.1 1277.2,779.2 1259.9,786.3 1242.6,793.3 1225.3,800.4 1208.0,807.5 1190.7,814.6 1173.3,821.7 1156.0,828.7 1138.7,835.8 1121.4,842.9 1104.1,850.0 1086.8,857.3 1069.5,864.6 1052.1,871.9 1034.8,879.2 1017.5,886.8 1000.2,894.4 982.9,901.9 965.6,909.5 948.3,917.1 930.9,924.9 913.6,932.6 896.4,940.2 879.1,947.3 861.9,954.4 844.8,961.1 827.7,967.8 810.6,974.6 793.6,981.7 776.6,988.8 759.7,995.5 742.8,1001.8 726.3,1007.9 710.2,1013.9 694.5,1019.7 679.2,1025.4 664.2,1030.7 649.7,1035.0 635.6,1040.3 621.9,1045.5 608.5,1050.6 595.6,1055.2 583.0,1059.8 570.8,1064.2 559.1,1068.6 547.7,1072.8 536.7,1076.9 526.1,1080.8 516.0,1085.1 506.2,1089.3 496.8,1094.3 487.8,1099.1 479.1,1103.9"/>
<polyline class="m" points="1539.4,684.6 1522.1,691.3 1504.8,698.0 1487.6,704.7 1470.3,711.4 1453.0,718.2 1435.8,724.9 1418.5,731.6 1401.3,738.3 1384.0,745.0 1366.7,751.7 1349.5,758.4 1332.2,765.2 1314.9,772.1 1297.7,779.2 1280.4,786.2 1263.1,793.3 1245.9,800.3 1228.6,807.4 1211.3,814.4 1194.1,821.5 1176.8,828.5 1159.5,835.6 1142.3,842.6 1125.0,849.7 1107.8,856.8 1090.5,864.0 1073.2,871.3 1056.0,878.5 1038.7,885.8 1021.4,893.4 1004.2,900.9 986.9,908.5 969.6,916.0 952.4,923.6 935.1,931.3 917.8,939.0 900.6,946.5 883.4,953.6 866.3,960.6 849.2,967.3 832.1,974.0 815.1,980.7 798.1,987.8 781.1,994.9 764.2,1001.6 747.3,1007.9 730.9,1014.0 714.8,1020.0 699.1,1025.8 683.8,1031.4 668.9,1036.7 654.4,1041.0 640.3,1046.2 626.6,1051.4 613.3,1056.3 600.4,1060.9 587.9,1065.4 575.8,1069.7 564.1,1074.1 552.8,1078.2 541.9,1082.2 531.3,1086.0 521.2,1090.2 511.5,1094.3 502.1,1099.1 493.2,1103.8 484.7,1108.5"/>
<polyline class="m" points="1541.7,692.0 1524.5,698.6 1507.3,705.3 1490.1,712.0 1472.9,718.7 1455.7,725.4 1438.4,732.0 1421.2,738.7 1404.0,745.4 1386.8,752.1 1369.6,758.8 1352.4,765.5 1335.1,772.1 1317.9,779.1 1300.7,786.1 1283.5,793.1 1266.3,800.2 1249.1,807.2 1231.9,814.2 1214.6,821.2 1197.4,828.2 1180.2,835.3 1163.0,842.3 1145.8,849.3 1128.6,856.3 1111.3,863.4 1094.1,870.6 1076.9,877.8 1059.7,885.0 1042.5,892.3 1025.3,899.8 1008.0,907.3 990.8,914.9 973.6,922.4 956.4,929.9 939.2,937.6 922.0,945.3 904.8,952.7 887.6,959.7 870.5,966.7 853.5,973.4 836.4,980.1 819.4,986.8 802.5,993.9 785.5,1000.9 768.6,1007.6 751.8,1013.9 735.3,1020.0 719.3,1025.9 703.6,1031.7 688.4,1037.3 673.5,1042.6 659.0,1046.9 645.0,1052.0 631.3,1057.1 618.1,1062.0 605.2,1066.5 592.7,1070.9 580.7,1075.1 569.0,1079.5 557.7,1083.5 546.9,1087.3 536.4,1091.1 526.3,1095.1 516.7,1099.1 507.4,1103.8 498.5,1108.5 490.1,1113.0"/>
<polyline class="m" points="1544.0,699.0 1526.8,705.6 1509.7,712.3 1492.5,718.9 1475.3,725.6 1458.2,732.2 1441.0,738.9 1423.8,745.5 1406.7,752.2 1389.5,758.8 1372.3,765.4 1355.1,772.1 1338.0,778.7 1320.8,785.7 1303.6,792.7 1286.5,799.7 1269.3,806.7 1252.1,813.6 1235.0,820.6 1217.8,827.6 1200.6,834.6 1183.5,841.6 1166.3,848.6 1149.1,855.6 1132.0,862.6 1114.8,869.7 1097.6,876.8 1080.5,884.0 1063.3,891.2 1046.1,898.4 1029.0,905.9 1011.8,913.4 994.6,920.9 977.5,928.4 960.3,935.9 943.1,943.5 926.0,951.1 908.8,958.5 891.7,965.5 874.6,972.4 857.6,979.1 840.6,985.8 823.6,992.4 806.7,999.5 789.8,1006.5 772.9,1013.2 756.1,1019.5 739.7,1025.5 723.6,1031.4 708.0,1037.2 692.8,1042.9 677.9,1048.1 663.5,1052.4 649.5,1057.4 635.9,1062.4 622.6,1067.2 609.8,1071.7 597.4,1076.0 585.4,1080.2 573.8,1084.4 562.6,1088.3 551.7,1092.1 541.3,1095.8 531.3,1099.7 521.7,1103.6 512.5,1108.2 503.7,1112.7 495.3,1117.2"/>
<polyline class="m" points="1547.0,705.6 1529.9,712.2 1512.8,718.8 1495.6,725.4 1478.5,732.1 1461.4,738.7 1444.2,745.3 1427.1,751.9 1410.0,758.5 1392.9,765.1 1375.7,771.7 1358.6,778.4 1341.5,785.0 1324.3,791.9 1307.2,798.8 1290.1,805.8 1272.9,812.8 1255.8,819.7 1238.7,826.7 1221.6,833.7 1204.4,840.6 1187.3,847.6 1170.2,854.6 1153.0,861.5 1135.9,868.5 1118.8,875.5 1101.7,882.7 1084.5,889.8 1067.4,896.9 1050.3,904.1 1033.1,911.6 1016.0,919.0 998.9,926.5 981.7,934.0 964.6,941.5 947.5,949.0 930.4,956.6 913.3,964.0 896.2,970.9 879.1,977.8 862.1,984.4 845.2,991.1 828.2,997.7 811.3,1004.7 794.4,1011.8 777.6,1018.5 760.7,1024.7 744.3,1030.7 728.3,1036.6 712.7,1042.4 697.5,1048.0 682.7,1053.3 668.3,1057.5 654.3,1062.5 640.7,1067.4 627.5,1072.1 614.7,1076.5 602.3,1080.7 590.3,1084.9 578.8,1089.0 567.6,1092.9 556.8,1096.6 546.5,1100.1 536.5,1104.0 526.9,1107.7 517.8,1112.2 509.0,1116.7 500.7,1121.0"/>
<polyline class="m" points="1549.9,711.9 1532.8,718.4 1515.7,725.0 1498.6,731.6 1481.5,738.2 1464.4,744.8 1447.3,751.4 1430.2,757.9 1413.1,764.5 1396.0,771.1 1379.0,777.7 1361.9,784.3 1344.8,790.9 1327.7,797.7 1310.6,804.7 1293.5,811.6 1276.4,818.6 1259.3,825.5 1242.2,832.4 1225.1,839.4 1208.0,846.3 1190.9,853.3 1173.8,860.2 1156.7,867.1 1139.6,874.1 1122.5,881.1 1105.5,888.2 1088.4,895.3 1071.3,902.4 1054.2,909.5 1037.1,917.0 1020.0,924.4 1002.9,931.8 985.8,939.3 968.7,946.7 951.6,954.2 934.5,961.8 917.4,969.1 900.4,976.0 883.4,982.8 866.4,989.5 849.5,996.1 832.5,1002.7 815.6,1009.7 798.8,1016.7 781.9,1023.4 765.1,1029.6 748.7,1035.6 732.7,1041.5 717.1,1047.3 701.9,1052.8 687.1,1058.1 672.7,1062.3 658.8,1067.2 645.2,1072.1 632.0,1076.7 619.3,1081.0 606.9,1085.2 595.0,1089.3 583.5,1093.4 572.3,1097.1 561.6,1100.8 551.3,1104.3 541.4,1108.0 531.9,1111.6 522.8,1116.0 514.1,1120.4 505.8,1124.6"/>
<polyline class="m" points="1552.6,717.8 1535.5,724.3 1518.5,730.9 1501.4,737.4 1484.4,744.0 1467.3,750.5 1450.2,757.1 1433.2,763.7 1416.1,770.2 1399.1,776.8 1382.0,783.3 1364.9,789.9 1347.9,796.4 1330.8,803.3 1313.8,810.2 1296.7,817.1 1279.6,824.0 1262.6,830.9 1245.5,837.8 1228.5,844.8 1211.4,851.7 1194.3,858.6 1177.3,865.5 1160.2,872.4 1143.2,879.3 1126.1,886.3 1109.0,893.4 1092.0,900.4 1074.9,907.5 1057.9,914.6 1040.8,922.0 1023.7,929.5 1006.7,936.9 989.6,944.3 972.6,951.7 955.5,959.2 938.4,966.7 921.4,974.0 904.4,980.8 887.4,987.6 870.5,994.2 853.5,1000.8 836.6,1007.4 819.7,1014.4 802.9,1021.4 786.1,1028.1 769.2,1034.3 752.8,1040.3 736.9,1046.1 721.3,1051.9 706.1,1057.4 691.3,1062.7 677.0,1066.9 663.0,1071.7 649.5,1076.5 636.4,1081.1 623.6,1085.3 611.3,1089.5 599.4,1093.5 587.9,1097.5 576.8,1101.2 566.1,1104.7 555.9,1108.2 546.0,1111.8 536.5,1115.3 527.5,1119.6 518.9,1123.9 510.6,1128.1"/>
<polyline class="m" points="1555.2,723.4 1538.1,729.9 1521.1,736.4 1504.1,742.9 1487.1,749.5 1470.0,756.0 1453.0,762.5 1436.0,769.1 1418.9,775.6 1401.9,782.1 1384.9,788.6 1367.9,795.2 1350.8,801.7 1333.8,808.5 1316.8,815.4 1299.7,822.3 1282.7,829.2 1265.7,836.1 1248.7,843.0 1231.6,849.8 1214.6,856.7 1197.6,863.6 1180.6,870.5 1163.5,877.4 1146.5,884.3 1129.5,891.3 1112.4,898.3 1095.4,905.3 1078.4,912.4 1061.4,919.5 1044.3,926.8 1027.3,934.2 1010.3,941.6 993.2,949.0 976.2,956.4 959.2,963.9 942.2,971.4 925.2,978.6 908.2,985.4 891.2,992.1 874.3,998.7 857.4,1005.3 840.5,1011.8 823.6,1018.9 806.8,1025.9 790.0,1032.5 773.2,1038.7 756.8,1044.7 740.8,1050.5 725.2,1056.2 710.1,1061.8 695.3,1067.0 681.0,1071.2 667.1,1076.0 653.5,1080.7 640.4,1085.2 627.7,1089.4 615.5,1093.5 603.6,1097.4 592.1,1101.4 581.1,1105.0 570.4,1108.5 560.2,1111.8 550.4,1115.4 541.0,1118.8 531.9,1123.0 523.4,1127.2 515.2,1131.3"/>
<polyline class="m" points="1557.6,728.7 1540.6,735.2 1523.6,741.7 1506.6,748.2 1489.6,754.7 1472.6,761.2 1455.6,767.7 1438.6,774.2 1421.6,780.7 1404.6,787.2 1387.6,793.7 1370.6,800.2 1353.6,806.7 1336.6,813.4 1319.6,820.3 1302.6,827.2 1285.6,834.1 1268.6,840.9 1251.6,847.8 1234.6,854.7 1217.6,861.5 1200.6,868.4 1183.6,875.3 1166.6,882.1 1149.6,889.0 1132.6,895.9 1115.6,902.9 1098.7,910.0 1081.7,917.0 1064.7,924.0 1047.7,931.4 1030.7,938.8 1013.7,946.1 996.7,953.5 979.7,960.8 962.7,968.3 945.7,975.7 928.7,982.9 911.7,989.7 894.8,996.4 877.9,1003.0 861.0,1009.5 844.1,1016.1 827.3,1023.1 810.4,1030.0 793.6,1036.7 776.9,1042.8 760.5,1048.8 744.5,1054.6 729.0,1060.3 713.8,1065.9 699.1,1071.1 684.8,1075.3 670.9,1080.0 657.4,1084.6 644.3,1089.1 631.6,1093.2 619.4,1097.3 607.5,1101.2 596.1,1105.1 585.1,1108.6 574.5,1112.0 564.3,1115.3 554.5,1118.8 545.1,1122.1 536.2,1126.3 527.6,1130.4 519.5,1134.3"/>
<polyline class="m" points="1559.9,733.7 1542.9,740.2 1526.0,746.6 1509.0,753.1 1492.0,759.6 1475.1,766.1 1458.1,772.5 1441.1,779.0 1424.2,785.5 1407.2,792.0 1390.2,798.4 1373.3,804.9 1356.3,811.4 1339.3,818.2 1322.3,825.0 1305.4,831.8 1288.4,838.7 1271.4,845.5 1254.5,852.4 1237.5,859.2 1220.5,866.1 1203.6,872.9 1186.6,879.8 1169.6,886.6 1152.7,893.5 1135.7,900.4 1118.7,907.3 1101.8,914.3 1084.8,921.3 1067.8,928.3 1050.9,935.7 1033.9,943.0 1016.9,950.4 1000.0,957.7 983.0,965.0 966.0,972.4 949.0,979.9 932.1,987.0 915.2,993.7 898.3,1000.4 881.4,1007.0 864.5,1013.5 847.6,1020.0 830.8,1027.0 814.0,1034.0 797.2,1040.6 780.4,1046.7 764.0,1052.7 748.1,1058.5 732.6,1064.2 717.4,1069.7 702.7,1075.0 688.4,1079.2 674.5,1083.8 661.1,1088.3 648.0,1092.7 635.4,1096.8 623.2,1100.8 611.3,1104.7 599.9,1108.5 589.0,1112.0 578.4,1115.3 568.2,1118.6 558.5,1121.9 549.1,1125.2 540.2,1129.3 531.7,1133.3 523.6,1137.2"/>
<polyline class="m" points="1562.8,738.5 1545.9,745.0 1528.9,751.4 1512.0,757.9 1495.0,764.3 1478.1,770.8 1461.1,777.2 1444.2,783.7 1427.3,790.1 1410.3,796.5 1393.4,803.0 1376.4,809.4 1359.5,815.9 1342.5,822.6 1325.6,829.5 1308.7,836.3 1291.7,843.1 1274.8,849.9 1257.8,856.7 1240.9,863.6 1223.9,870.4 1207.0,877.2 1190.1,884.0 1173.1,890.8 1156.2,897.7 1139.2,904.6 1122.3,911.5 1105.3,918.5 1088.4,925.4 1071.4,932.4 1054.5,939.7 1037.6,947.0 1020.6,954.3 1003.7,961.7 986.7,969.0 969.8,976.3 952.8,983.7 935.9,990.8 919.0,997.5 902.1,1004.2 885.2,1010.7 868.4,1017.2 851.5,1023.7 834.7,1030.7 817.9,1037.6 801.1,1044.2 784.3,1050.3 768.0,1056.3 752.0,1062.1 736.5,1067.8 721.4,1073.3 706.7,1078.5 692.4,1082.7 678.6,1087.3 665.1,1091.7 652.1,1096.0 639.5,1100.1 627.3,1104.1 615.5,1107.9 604.1,1111.6 593.1,1115.1 582.6,1118.3 572.5,1121.5 562.8,1124.8 553.5,1127.9 544.6,1132.0 536.1,1135.9 528.1,1139.7"/>
<polyline class="m" points="1565.8,743.2 1548.9,749.6 1532.0,756.0 1515.1,762.4 1498.1,768.9 1481.2,775.3 1464.3,781.7 1447.4,788.1 1430.5,794.5 1413.5,801.0 1396.6,807.4 1379.7,813.8 1362.8,820.2 1345.9,826.9 1328.9,833.7 1312.0,840.5 1295.1,847.3 1278.2,854.1 1261.2,860.9 1244.3,867.7 1227.4,874.5 1210.5,881.3 1193.6,888.1 1176.6,894.9 1159.7,901.7 1142.8,908.6 1125.9,915.5 1108.9,922.4 1092.0,929.4 1075.1,936.3 1058.2,943.6 1041.3,950.9 1024.3,958.2 1007.4,965.5 990.5,972.8 973.6,980.1 956.6,987.5 939.7,994.6 922.9,1001.2 906.0,1007.8 889.1,1014.3 872.3,1020.8 855.4,1027.3 838.6,1034.2 821.8,1041.2 805.0,1047.8 788.3,1053.9 771.9,1059.8 756.0,1065.6 740.5,1071.2 725.4,1076.7 710.7,1082.0 696.4,1086.1 682.6,1090.7 669.1,1095.1 656.1,1099.3 643.5,1103.3 631.3,1107.2 619.6,1111.0 608.2,1114.7 597.3,1118.1 586.8,1121.3 576.7,1124.4 567.0,1127.6 557.7,1130.7 548.9,1134.6 540.5,1138.5 532.4,1142.2"/>
<polyline class="m" points="1568.7,747.7 1551.8,754.1 1534.9,760.4 1518.0,766.8 1501.1,773.2 1484.2,779.6 1467.3,786.0 1450.4,792.4 1433.5,798.8 1416.6,805.2 1399.7,811.6 1382.8,818.0 1365.9,824.4 1349.0,831.1 1332.1,837.9 1315.2,844.6 1298.3,851.4 1281.4,858.2 1264.5,865.0 1247.6,871.8 1230.7,878.5 1213.8,885.3 1196.9,892.1 1180.0,898.9 1163.1,905.6 1146.2,912.5 1129.3,919.4 1112.4,926.3 1095.5,933.2 1078.6,940.1 1061.7,947.4 1044.8,954.7 1027.9,961.9 1011.0,969.2 994.1,976.4 977.2,983.7 960.3,991.1 943.4,998.1 926.5,1004.7 909.7,1011.3 892.8,1017.8 876.0,1024.3 859.2,1030.7 842.4,1037.7 825.6,1044.6 808.8,1051.2 792.0,1057.3 775.7,1063.2 759.8,1069.0 744.2,1074.6 729.2,1080.1 714.5,1085.3 700.2,1089.5 686.4,1093.9 673.0,1098.3 660.0,1102.5 647.4,1106.4 635.2,1110.3 623.5,1114.0 612.2,1117.7 601.3,1121.0 590.8,1124.1 580.7,1127.2 571.1,1130.3 561.8,1133.3 553.0,1137.2 544.6,1141.0 536.6,1144.6"/>
<polyline class="m" points="1571.5,752.0 1554.7,758.3 1537.8,764.7 1520.9,771.1 1504.0,777.4 1487.1,783.8 1470.3,790.2 1453.4,796.5 1436.5,802.9 1419.6,809.3 1402.7,815.7 1385.9,822.0 1369.0,828.4 1352.1,835.1 1335.2,841.8 1318.3,848.6 1301.4,855.3 1284.6,862.1 1267.7,868.9 1250.8,875.6 1233.9,882.4 1217.0,889.1 1200.2,895.9 1183.3,902.6 1166.4,909.4 1149.5,916.2 1132.6,923.1 1115.7,930.0 1098.9,936.8 1082.0,943.8 1065.1,951.0 1048.2,958.2 1031.3,965.5 1014.5,972.7 997.6,980.0 980.7,987.2 963.8,994.5 946.9,1001.6 930.1,1008.1 913.2,1014.7 896.4,1021.1 879.6,1027.6 862.8,1034.0 846.0,1041.0 829.2,1047.9 812.4,1054.5 795.7,1060.5 779.3,1066.4 763.4,1072.2 747.9,1077.8 732.8,1083.2 718.1,1088.5 703.9,1092.6 690.1,1097.0 676.7,1101.3 663.7,1105.5 651.1,1109.4 639.0,1113.2 627.3,1116.9 616.0,1120.5 605.1,1123.7 594.6,1126.9 584.6,1129.9 575.0,1132.9 565.8,1135.8 557.0,1139.6 548.6,1143.4 540.7,1147.0"/>
<polyline class="m" points="1574.2,756.1 1557.4,762.4 1540.5,768.8 1523.6,775.1 1506.8,781.5 1489.9,787.8 1473.1,794.2 1456.2,800.5 1439.3,806.9 1422.5,813.2 1405.6,819.6 1388.7,825.9 1371.9,832.3 1355.0,838.9 1338.2,845.6 1321.3,852.4 1304.4,859.1 1287.6,865.9 1270.7,872.6 1253.9,879.3 1237.0,886.1 1220.1,892.8 1203.3,899.5 1186.4,906.3 1169.5,913.0 1152.7,919.8 1135.8,926.7 1119.0,933.5 1102.1,940.4 1085.2,947.3 1068.4,954.5 1051.5,961.7 1034.6,968.9 1017.8,976.1 1000.9,983.3 984.1,990.6 967.2,997.9 950.3,1004.8 933.5,1011.4 916.7,1017.9 899.8,1024.3 883.0,1030.8 866.2,1037.2 849.4,1044.1 832.7,1051.0 815.9,1057.6 799.1,1063.6 782.8,1069.5 766.9,1075.3 751.4,1080.9 736.3,1086.3 721.7,1091.5 707.4,1095.7 693.6,1100.0 680.2,1104.3 667.3,1108.4 654.7,1112.3 642.6,1116.0 630.9,1119.7 619.6,1123.2 608.8,1126.4 598.3,1129.5 588.3,1132.4 578.7,1135.4 569.5,1138.2 560.8,1142.0 552.5,1145.7 544.6,1149.2"/>
<polyline class="m" points="1576.8,760.0 1560.0,766.4 1543.1,772.7 1526.3,779.0 1509.4,785.3 1492.6,791.7 1475.8,798.0 1458.9,804.3 1442.1,810.6 1425.2,817.0 1408.4,823.3 1391.5,829.6 1374.7,836.0 1357.8,842.6 1341.0,849.3 1324.2,856.0 1307.3,862.7 1290.5,869.5 1273.6,876.2 1256.8,882.9 1239.9,889.6 1223.1,896.3 1206.2,903.0 1189.4,909.8 1172.6,916.5 1155.7,923.3 1138.9,930.1 1122.0,936.9 1105.2,943.7 1088.3,950.6 1071.5,957.8 1054.7,965.0 1037.8,972.2 1021.0,979.4 1004.1,986.6 987.3,993.8 970.4,1001.1 953.6,1008.0 936.8,1014.5 920.0,1021.0 903.1,1027.4 886.3,1033.8 869.6,1040.3 852.8,1047.2 836.0,1054.1 819.2,1060.6 802.5,1066.7 786.1,1072.5 770.2,1078.3 754.7,1083.8 739.7,1089.3 725.0,1094.5 710.8,1098.6 697.0,1102.9 683.6,1107.1 670.7,1111.2 658.2,1115.0 646.1,1118.7 634.4,1122.3 623.1,1125.9 612.3,1129.0 601.9,1132.0 591.9,1134.9 582.3,1137.8 573.2,1140.6 564.5,1144.3 556.2,1147.9 548.3,1151.3"/>
<polyline class="m" points="1579.3,763.9 1562.5,770.2 1545.6,776.5 1528.8,782.8 1512.0,789.1 1495.2,795.4 1478.3,801.7 1461.5,808.0 1444.7,814.3 1427.9,820.6 1411.0,826.9 1394.2,833.2 1377.4,839.5 1360.6,846.1 1343.7,852.8 1326.9,859.5 1310.1,866.2 1293.2,872.9 1276.4,879.6 1259.6,886.3 1242.8,893.0 1225.9,899.7 1209.1,906.4 1192.3,913.1 1175.5,919.8 1158.6,926.6 1141.8,933.4 1125.0,940.2 1108.2,947.0 1091.3,953.8 1074.5,961.0 1057.7,968.2 1040.9,975.4 1024.0,982.5 1007.2,989.7 990.4,996.9 973.5,1004.1 956.7,1011.1 939.9,1017.5 923.1,1024.0 906.3,1030.4 889.5,1036.8 872.7,1043.2 856.0,1050.1 839.2,1057.0 822.4,1063.5 805.7,1069.5 789.3,1075.4 773.4,1081.1 758.0,1086.7 742.9,1092.1 728.3,1097.3 714.1,1101.5 700.3,1105.7 686.9,1109.8 674.0,1113.8 661.5,1117.7 649.4,1121.3 637.7,1124.9 626.5,1128.4 615.7,1131.4 605.3,1134.4 595.3,1137.3 585.8,1140.1 576.7,1142.8 568.0,1146.4 559.7,1150.0 551.9,1153.4"/>
<polyline class="m" points="1581.7,767.5 1564.9,773.8 1548.1,780.1 1531.3,786.4 1514.4,792.6 1497.6,798.9 1480.8,805.2 1464.0,811.5 1447.2,817.8 1430.4,824.1 1413.6,830.3 1396.8,836.6 1380.0,842.9 1363.2,849.5 1346.4,856.2 1329.6,862.9 1312.7,869.5 1295.9,876.2 1279.1,882.9 1262.3,889.6 1245.5,896.3 1228.7,902.9 1211.9,909.6 1195.1,916.3 1178.3,923.0 1161.5,929.7 1144.7,936.5 1127.8,943.3 1111.0,950.1 1094.2,956.9 1077.4,964.0 1060.6,971.2 1043.8,978.4 1027.0,985.5 1010.2,992.7 993.4,999.8 976.6,1007.0 959.8,1013.9 943.0,1020.4 926.2,1026.8 909.4,1033.2 892.6,1039.6 875.8,1046.0 859.1,1052.8 842.3,1059.7 825.5,1066.2 808.8,1072.3 792.5,1078.1 776.6,1083.8 761.1,1089.4 746.0,1094.8 731.4,1100.0 717.2,1104.1 703.5,1108.3 690.1,1112.4 677.2,1116.3 664.7,1120.1 652.6,1123.8 641.0,1127.3 629.8,1130.7 619.0,1133.7 608.6,1136.7 598.7,1139.5 589.2,1142.2 580.1,1144.9 571.4,1148.4 563.2,1151.9 555.4,1155.3"/>
<polyline class="m" points="1585.8,771.0 1569.0,777.3 1552.2,783.6 1535.4,789.8 1518.6,796.1 1501.8,802.4 1485.0,808.6 1468.1,814.9 1451.3,821.2 1434.5,827.5 1417.7,833.7 1400.9,840.0 1384.1,846.3 1367.3,852.9 1350.5,859.5 1333.7,866.2 1316.9,872.9 1300.1,879.5 1283.3,886.2 1266.5,892.9 1249.7,899.5 1232.9,906.2 1216.1,912.9 1199.3,919.5 1182.5,926.2 1165.7,932.9 1148.8,939.7 1132.0,946.5 1115.2,953.2 1098.4,960.1 1081.6,967.2 1064.8,974.3 1048.0,981.5 1031.2,988.6 1014.4,995.8 997.6,1002.9 980.8,1010.1 964.0,1017.0 947.2,1023.4 930.4,1029.8 913.6,1036.2 896.8,1042.6 880.1,1049.0 863.3,1055.8 846.5,1062.7 829.7,1069.2 813.0,1075.2 796.6,1081.1 780.7,1086.8 765.3,1092.3 750.2,1097.7 735.6,1102.9 721.4,1107.1 707.6,1111.2 694.3,1115.3 681.4,1119.2 668.9,1122.9 656.8,1126.5 645.2,1130.0 634.0,1133.4 623.2,1136.4 612.8,1139.3 602.9,1142.0 593.4,1144.7 584.3,1147.3 575.7,1150.9 567.5,1154.3 559.7,1157.6"/>
<polyline class="m" points="1590.0,774.4 1573.2,780.7 1556.4,786.9 1539.6,793.2 1522.8,799.4 1506.0,805.7 1489.2,812.0 1472.4,818.2 1455.6,824.5 1438.8,830.7 1422.0,837.0 1405.2,843.3 1388.4,849.5 1371.6,856.1 1354.8,862.8 1337.9,869.4 1321.1,876.1 1304.3,882.7 1287.5,889.4 1270.7,896.1 1253.9,902.7 1237.1,909.4 1220.3,916.0 1203.5,922.7 1186.7,929.4 1169.9,936.1 1153.1,942.8 1136.3,949.6 1119.5,956.3 1102.7,963.1 1085.9,970.3 1069.1,977.4 1052.3,984.6 1035.5,991.7 1018.7,998.8 1001.9,1006.0 985.1,1013.1 968.3,1020.0 951.5,1026.4 934.7,1032.8 917.9,1039.1 901.1,1045.5 884.3,1051.9 867.5,1058.8 850.8,1065.7 834.0,1072.2 817.2,1078.2 800.9,1084.0 784.9,1089.7 769.5,1095.2 754.4,1100.6 739.8,1105.8 725.6,1110.0 711.8,1114.1 698.5,1118.1 685.6,1122.0 673.1,1125.7 661.0,1129.3 649.4,1132.8 638.2,1136.1 627.4,1139.1 617.1,1141.9 607.2,1144.6 597.7,1147.3 588.6,1149.8 580.0,1153.3 571.8,1156.7 564.0,1159.9"/>
<polyline class="m" points="1594.1,777.7 1577.3,783.9 1560.5,790.2 1543.7,796.4 1526.9,802.6 1510.1,808.9 1493.3,815.1 1476.4,821.4 1459.6,827.6 1442.8,833.9 1426.0,840.1 1409.2,846.4 1392.4,852.6 1375.6,859.2 1358.8,865.9 1342.0,872.5 1325.2,879.2 1308.4,885.8 1291.6,892.5 1274.8,899.1 1258.0,905.8 1241.2,912.4 1224.4,919.1 1207.6,925.7 1190.8,932.4 1174.0,939.1 1157.2,945.8 1140.4,952.6 1123.6,959.3 1106.8,966.1 1090.0,973.2 1073.2,980.4 1056.4,987.5 1039.6,994.6 1022.8,1001.8 1006.0,1008.9 989.2,1016.0 972.4,1022.9 955.6,1029.2 938.8,1035.6 922.0,1042.0 905.2,1048.3 888.4,1054.7 871.6,1061.6 854.8,1068.5 838.0,1075.0 821.3,1081.0 804.9,1086.8 789.0,1092.5 773.5,1098.0 758.4,1103.4 743.8,1108.6 729.6,1112.8 715.8,1116.9 702.5,1120.8 689.6,1124.7 677.1,1128.4 665.0,1131.9 653.4,1135.4 642.2,1138.7 631.5,1141.6 621.1,1144.4 611.2,1147.1 601.8,1149.7 592.7,1152.2 584.1,1155.6 575.9,1159.0 568.2,1162.1"/>
<polyline class="m" points="1598.0,780.8 1581.2,787.1 1564.4,793.3 1547.6,799.5 1530.8,805.8 1514.0,812.0 1497.2,818.3 1480.4,824.5 1463.6,830.7 1446.8,837.0 1430.0,843.2 1413.2,849.4 1396.4,855.7 1379.6,862.2 1362.8,868.9 1346.0,875.5 1329.2,882.2 1312.4,888.8 1295.6,895.5 1278.8,902.1 1262.0,908.8 1245.2,915.4 1228.4,922.0 1211.6,928.7 1194.8,935.3 1178.0,942.1 1161.2,948.8 1144.4,955.5 1127.6,962.2 1110.8,969.0 1094.0,976.1 1077.2,983.3 1060.4,990.4 1043.6,997.5 1026.8,1004.6 1010.0,1011.7 993.2,1018.9 976.4,1025.7 959.6,1032.0 942.8,1038.4 926.0,1044.8 909.2,1051.1 892.4,1057.5 875.6,1064.4 858.8,1071.2 842.0,1077.7 825.2,1083.7 808.9,1089.6 792.9,1095.3 777.4,1100.8 762.4,1106.2 747.7,1111.4 733.5,1115.5 719.8,1119.6 706.4,1123.5 693.5,1127.3 681.0,1131.0 669.0,1134.5 657.4,1137.9 646.2,1141.2 635.4,1144.1 625.1,1146.8 615.2,1149.5 605.8,1152.0 596.7,1154.5 588.1,1157.9 580.0,1161.2 572.2,1164.3"/>
<polyline class="m" points="1602.0,784.0 1585.2,790.2 1568.4,796.5 1551.6,802.7 1534.8,808.9 1518.0,815.1 1501.2,821.4 1484.4,827.6 1467.6,833.8 1450.8,840.1 1434.0,846.3 1417.2,852.5 1400.4,858.7 1383.6,865.3 1366.8,871.9 1350.0,878.6 1333.2,885.2 1316.4,891.8 1299.6,898.5 1282.8,905.1 1266.0,911.7 1249.2,918.4 1232.4,925.0 1215.6,931.7 1198.8,938.3 1182.0,945.0 1165.2,951.7 1148.4,958.4 1131.6,965.2 1114.8,971.9 1098.0,979.0 1081.2,986.1 1064.4,993.3 1047.6,1000.4 1030.8,1007.5 1014.0,1014.6 997.2,1021.7 980.4,1028.5 963.6,1034.8 946.8,1041.2 930.0,1047.5 913.2,1053.9 896.4,1060.2 879.6,1067.1 862.8,1074.0 846.0,1080.5 829.2,1086.5 812.8,1092.3 796.9,1098.0 781.4,1103.5 766.3,1108.9 751.7,1114.1 737.5,1118.2 723.7,1122.3 710.4,1126.2 697.5,1129.9 685.0,1133.6 672.9,1137.1 661.3,1140.5 650.2,1143.7 639.4,1146.6 629.1,1149.3 619.2,1151.9 609.8,1154.4 600.8,1156.8 592.2,1160.1 584.0,1163.4 576.3,1166.5"/>
</g>
<g id="sheetB">
<polyline class="n" points="856.0,447.0 852.3,448.6 848.6,450.1 844.9,451.7 841.3,453.2 837.6,454.8 833.9,456.3 830.2,457.9 826.5,459.4 822.8,461.0 819.1,462.6 815.5,464.1 811.8,465.7 808.1,467.2 804.4,468.8 800.7,470.3 797.0,471.9 793.4,473.4 789.7,475.0 786.0,476.5 782.3,478.1 778.6,479.7 774.9,481.2 771.2,482.8 767.6,484.3 763.9,485.9 760.2,487.4 756.5,489.0 752.8,490.5 749.1,492.1 745.4,493.7 741.8,495.2 738.1,496.8 734.4,498.3 730.7,499.9 727.0,501.4 723.3,503.0 719.6,504.5 716.0,506.1 712.3,507.7 708.6,509.2 704.9,510.8 701.2,512.3 697.5,513.9 693.8,515.4 690.2,517.0 686.5,518.5 682.8,520.1 679.1,521.6 675.4,523.2 671.7,524.8 668.1,526.3 664.4,527.9 660.7,529.4 657.0,531.0 653.3,532.5 649.6,534.1 645.9,535.6 642.3,537.2 638.6,538.8 634.9,540.3 631.2,541.9 627.5,543.4 623.8,545.0 620.1,546.5 616.5,548.1 612.8,549.6 609.1,551.2 605.4,552.8 601.7,554.3 598.0,555.9"/>
<polyline class="n" points="828.7,500.0 825.0,501.5 821.3,503.0 817.6,504.5 813.9,506.0 810.2,507.5 806.5,509.0 802.8,510.5 799.0,512.0 795.3,513.5 791.6,515.0 787.9,516.5 784.2,518.0 780.5,519.5 776.8,521.0 773.1,522.5 769.4,524.1 765.7,525.6 762.0,527.1 758.3,528.6 754.6,530.1 750.9,531.6 747.1,533.1 743.4,534.6 739.7,536.1 736.0,537.6 732.3,539.1 728.6,540.6 724.9,542.1 721.2,543.6 717.5,545.1 713.8,546.6 710.1,548.1 706.4,549.6 702.7,551.1 699.0,552.6 695.3,554.1 691.5,555.6 687.8,557.1 684.1,558.6 680.4,560.1 676.7,561.6 673.0,563.1 669.3,564.6 665.6,566.1 661.9,567.6 658.2,569.1 654.5,570.7 650.8,572.2 647.1,573.7 643.4,575.2 639.7,576.7 635.9,578.2 632.2,579.7 628.5,581.2 624.8,582.7 621.1,584.2 617.4,585.7 613.7,587.2 610.0,588.7 606.3,590.2 602.6,591.7 598.9,593.2 595.2,594.7 591.5,596.2 587.8,597.7 584.0,599.2 580.3,600.5 576.3,601.1 572.4,600.7 568.7,599.2 565.4,596.9"/>
<polyline class="n" points="796.5,549.1 792.8,550.6 789.0,552.0 785.3,553.5 781.6,554.9 777.9,556.4 774.1,557.8 770.4,559.3 766.7,560.8 763.0,562.2 759.2,563.7 755.5,565.1 751.8,566.6 748.0,568.0 744.3,569.5 740.6,570.9 736.9,572.4 733.1,573.8 729.4,575.3 725.7,576.8 722.0,578.2 718.2,579.7 714.5,581.1 710.8,582.6 707.1,584.0 703.3,585.5 699.6,586.9 695.9,588.4 692.2,589.8 688.4,591.3 684.7,592.7 681.0,594.2 677.2,595.7 673.5,597.1 669.8,598.6 666.1,600.0 662.3,601.5 658.6,602.9 654.9,604.4 651.2,605.8 647.4,607.3 643.7,608.7 640.0,610.2 636.3,611.7 632.5,613.1 628.8,614.6 625.1,616.0 621.4,617.5 617.6,618.9 613.9,620.4 610.2,621.8 606.5,623.3 602.7,624.7 598.9,626.0 595.1,627.0 591.2,627.9 587.2,628.5 583.2,628.7 579.2,628.6 575.2,628.2 571.3,627.5 567.5,626.4 563.7,625.0 560.1,623.3 556.6,621.4 553.3,619.1 550.1,616.8 547.0,614.2 544.0,611.5"/>
<polyline class="n" points="775.6,594.6 771.9,596.1 768.2,597.5 764.4,598.9 760.7,600.3 756.9,601.7 753.2,603.2 749.5,604.6 745.7,606.0 742.0,607.4 738.2,608.8 734.5,610.2 730.7,611.7 727.0,613.1 723.3,614.5 719.5,615.9 715.8,617.3 712.0,618.7 708.3,620.2 704.6,621.6 700.8,623.0 697.1,624.4 693.3,625.8 689.6,627.2 685.9,628.7 682.1,630.1 678.4,631.5 674.6,632.9 670.9,634.3 667.2,635.7 663.4,637.2 659.7,638.6 655.9,640.0 652.2,641.4 648.5,642.8 644.7,644.2 641.0,645.7 637.2,647.1 633.5,648.5 629.8,649.9 626.0,651.3 622.3,652.7 618.5,654.2 614.8,655.6 611.0,657.0 607.3,658.4 603.6,659.8 599.8,661.1 595.9,662.2 592.0,663.1 588.1,663.6 584.1,663.9 580.1,663.9 576.1,663.6 572.2,662.9 568.3,661.9 564.5,660.6 560.8,659.0 557.3,657.1 554.0,654.9 550.7,652.6 547.6,650.1 544.6,647.4 541.6,644.8 538.7,642.1 535.7,639.4 532.7,636.7 529.7,634.1 526.8,631.4 523.8,628.7 520.8,626.0"/>
<polyline class="n" points="752.7,636.2 749.0,637.6 745.2,639.0 741.5,640.3 737.7,641.7 734.0,643.1 730.2,644.5 726.5,645.9 722.7,647.2 718.9,648.6 715.2,650.0 711.4,651.4 707.7,652.8 703.9,654.2 700.2,655.5 696.4,656.9 692.7,658.3 688.9,659.7 685.2,661.1 681.4,662.5 677.7,663.8 673.9,665.2 670.2,666.6 666.4,668.0 662.6,669.4 658.9,670.8 655.1,672.1 651.4,673.5 647.6,674.9 643.9,676.3 640.1,677.7 636.4,679.1 632.6,680.4 628.9,681.8 625.1,683.2 621.4,684.6 617.6,686.0 613.9,687.4 610.1,688.7 606.4,690.1 602.6,691.5 598.8,692.8 595.0,693.9 591.1,694.8 587.1,695.4 583.1,695.7 579.1,695.8 575.2,695.5 571.2,694.9 567.3,693.9 563.5,692.7 559.8,691.2 556.3,689.3 552.9,687.3 549.6,685.0 546.5,682.5 543.4,679.9 540.4,677.2 537.5,674.5 534.5,671.9 531.5,669.2 528.5,666.5 525.6,663.8 522.6,661.2 519.6,658.5 516.7,655.8 513.7,653.1 510.7,650.5 507.7,647.8 504.8,645.1 501.8,642.4 498.8,639.8"/>
<polyline class="n" points="729.1,673.6 725.4,674.9 721.6,676.3 717.9,677.7 714.1,679.0 710.3,680.4 706.6,681.7 702.8,683.1 699.1,684.5 695.3,685.8 691.5,687.2 687.8,688.6 684.0,689.9 680.3,691.3 676.5,692.7 672.7,694.0 669.0,695.4 665.2,696.7 661.5,698.1 657.7,699.5 653.9,700.8 650.2,702.2 646.4,703.6 642.6,704.9 638.9,706.3 635.1,707.7 631.4,709.0 627.6,710.4 623.8,711.7 620.1,713.1 616.3,714.5 612.6,715.8 608.8,717.2 605.0,718.6 601.3,719.9 597.5,721.3 593.8,722.7 590.0,723.9 586.1,725.0 582.2,725.9 578.3,726.5 574.3,726.8 570.3,726.9 566.3,726.5 562.4,725.9 558.5,725.0 554.7,723.8 551.0,722.2 547.4,720.3 544.0,718.3 540.7,716.0 537.6,713.5 534.6,710.9 531.6,708.2 528.6,705.6 525.6,702.9 522.7,700.2 519.7,697.5 516.7,694.9 513.7,692.2 510.8,689.5 507.8,686.8 504.8,684.2 501.9,681.5 498.9,678.8 495.9,676.1 492.9,673.5 490.0,670.8 487.0,668.1 484.0,665.4 481.0,662.8 478.1,660.1 475.1,657.4 472.1,654.7 469.2,652.1"/>
<polyline class="n" points="709.6,708.2 705.9,709.5 702.1,710.9 698.3,712.2 694.6,713.6 690.8,714.9 687.0,716.3 683.3,717.6 679.5,719.0 675.8,720.3 672.0,721.7 668.2,723.0 664.5,724.4 660.7,725.7 656.9,727.1 653.2,728.4 649.4,729.8 645.6,731.1 641.9,732.5 638.1,733.8 634.3,735.2 630.6,736.5 626.8,737.9 623.1,739.3 619.3,740.6 615.5,742.0 611.8,743.3 608.0,744.7 604.2,746.0 600.5,747.4 596.7,748.7 592.9,750.1 589.2,751.4 585.4,752.8 581.6,754.1 577.8,755.3 574.0,756.4 570.1,757.2 566.1,757.7 562.1,757.9 558.1,757.9 554.1,757.5 550.2,756.8 546.3,755.7 542.6,754.4 538.9,752.8 535.4,750.9 532.0,748.8 528.7,746.5 525.6,743.9 522.6,741.3 519.7,738.6 516.7,736.0 513.7,733.3 510.7,730.6 507.8,727.9 504.8,725.2 501.8,722.6 498.8,719.9 495.9,717.2 492.9,714.5 489.9,711.9 486.9,709.2 484.0,706.5 481.0,703.8 478.0,701.2 475.1,698.5 472.1,695.8 469.1,693.1 466.1,690.5 463.2,687.8 460.2,685.1 457.2,682.4 454.2,679.8 451.3,677.1 448.3,674.4 445.3,671.7 442.3,669.1"/>
<polyline class="n" points="691.9,740.7 688.1,742.0 684.3,743.3 680.6,744.7 676.8,746.0 673.0,747.4 669.2,748.7 665.5,750.1 661.7,751.4 657.9,752.7 654.2,754.1 650.4,755.4 646.6,756.8 642.9,758.1 639.1,759.4 635.3,760.8 631.6,762.1 627.8,763.5 624.0,764.8 620.3,766.1 616.5,767.5 612.7,768.8 609.0,770.2 605.2,771.5 601.4,772.9 597.6,774.2 593.9,775.5 590.1,776.9 586.3,778.2 582.6,779.6 578.8,780.9 575.0,782.2 571.3,783.6 567.5,784.9 563.7,786.1 559.8,787.1 555.9,788.0 551.9,788.4 547.9,788.7 543.9,788.6 540.0,788.3 536.0,787.5 532.2,786.5 528.4,785.1 524.7,783.6 521.2,781.6 517.8,779.5 514.6,777.2 511.5,774.7 508.5,772.0 505.5,769.4 502.5,766.7 499.6,764.0 496.6,761.3 493.6,758.7 490.6,756.0 487.7,753.3 484.7,750.6 481.7,748.0 478.7,745.3 475.8,742.6 472.8,739.9 469.8,737.2 466.8,734.6 463.9,731.9 460.9,729.2 457.9,726.5 455.0,723.9 452.0,721.2 449.0,718.5 446.0,715.8 443.1,713.2 440.1,710.5 437.1,707.8 434.1,705.1 431.2,702.5 428.2,699.8 425.2,697.1 422.3,694.4 419.3,691.8 416.3,689.1 413.3,686.4"/>
<polyline class="n" points="675.6,771.2 671.8,772.6 668.0,773.9 664.3,775.2 660.5,776.5 656.7,777.9 653.0,779.2 649.2,780.5 645.4,781.9 641.6,783.2 637.9,784.5 634.1,785.9 630.3,787.2 626.6,788.5 622.8,789.9 619.0,791.2 615.2,792.5 611.5,793.9 607.7,795.2 603.9,796.5 600.1,797.8 596.4,799.2 592.6,800.5 588.8,801.8 585.1,803.2 581.3,804.5 577.5,805.8 573.7,807.2 570.0,808.5 566.2,809.8 562.4,811.2 558.6,812.4 554.8,813.6 550.9,814.5 547.0,815.3 543.0,815.7 539.0,815.8 535.0,815.7 531.1,815.2 527.1,814.5 523.3,813.3 519.6,811.9 515.9,810.3 512.5,808.3 509.1,806.1 505.9,803.7 502.8,801.2 499.8,798.5 496.8,795.8 493.9,793.2 490.9,790.5 487.9,787.8 485.0,785.1 482.0,782.5 479.0,779.8 476.0,777.1 473.1,774.4 470.1,771.8 467.1,769.1 464.1,766.4 461.2,763.7 458.2,761.1 455.2,758.4 452.3,755.7 449.3,753.0 446.3,750.4 443.3,747.7 440.4,745.0 437.4,742.3 434.4,739.7 431.4,737.0 428.5,734.3 425.5,731.6 422.5,729.0 419.5,726.3 416.6,723.6 413.6,720.9 410.6,718.2 407.7,715.6 404.7,712.9 401.7,710.2 398.7,707.5"/>
<polyline class="n" points="662.2,800.2 658.4,801.6 654.6,802.9 650.9,804.2 647.1,805.5 643.3,806.9 639.5,808.2 635.8,809.5 632.0,810.8 628.2,812.1 624.4,813.5 620.7,814.8 616.9,816.1 613.1,817.4 609.3,818.7 605.6,820.1 601.8,821.4 598.0,822.7 594.2,824.0 590.5,825.3 586.7,826.7 582.9,828.0 579.1,829.3 575.4,830.6 571.6,832.0 567.8,833.3 564.0,834.6 560.3,835.9 556.5,837.2 552.7,838.6 548.9,839.7 545.0,840.7 541.1,841.5 537.1,842.0 533.1,842.2 529.1,842.1 525.2,841.8 521.2,841.0 517.4,840.0 513.6,838.6 509.9,837.1 506.4,835.1 503.0,833.0 499.8,830.7 496.7,828.2 493.7,825.5 490.7,822.9 487.7,820.2 484.7,817.5 481.8,814.8 478.8,812.2 475.8,809.5 472.9,806.8 469.9,804.1 466.9,801.5 463.9,798.8 461.0,796.1 458.0,793.4 455.0,790.8 452.0,788.1 449.1,785.4 446.1,782.7 443.1,780.0 440.1,777.4 437.2,774.7 434.2,772.0 431.2,769.3 428.3,766.7 425.3,764.0 422.3,761.3 419.3,758.6 416.4,756.0 413.4,753.3 410.4,750.6 407.4,747.9 404.5,745.3 401.5,742.6 398.5,739.9"/>
<polyline class="n" points="649.4,827.9 645.6,829.2 641.9,830.5 638.1,831.8 634.3,833.2 630.5,834.5 626.7,835.8 623.0,837.1 619.2,838.4 615.4,839.7 611.6,841.0 607.8,842.3 604.1,843.6 600.3,844.9 596.5,846.2 592.7,847.5 588.9,848.8 585.2,850.1 581.4,851.5 577.6,852.8 573.8,854.1 570.0,855.4 566.3,856.7 562.5,858.0 558.7,859.3 554.9,860.6 551.1,861.9 547.4,863.2 543.5,864.4 539.6,865.4 535.7,866.2 531.8,866.6 527.8,866.8 523.8,866.7 519.8,866.3 515.9,865.6 512.0,864.5 508.2,863.2 504.6,861.6 501.1,859.7 497.7,857.6 494.4,855.3 491.3,852.7 488.3,850.1 485.3,847.4 482.4,844.8 479.4,842.1 476.4,839.4 473.4,836.7 470.5,834.1 467.5,831.4 464.5,828.7 461.5,826.0 458.6,823.3 455.6,820.7 452.6,818.0 449.6,815.3 446.7,812.6 443.7,810.0 440.7,807.3 437.8,804.6 434.8,801.9 431.8,799.3 428.8,796.6 425.9,793.9 422.9,791.2 419.9,788.6 416.9,785.9 414.0,783.2 411.0,780.5 408.0,777.9 405.0,775.2 402.1,772.5 399.1,769.8"/>
<polyline class="n" points="639.0,854.3 635.2,855.6 631.5,856.9 627.7,858.2 623.9,859.5 620.1,860.8 616.3,862.1 612.5,863.4 608.7,864.7 605.0,866.0 601.2,867.3 597.4,868.6 593.6,869.9 589.8,871.1 586.0,872.4 582.3,873.7 578.5,875.0 574.7,876.3 570.9,877.6 567.1,878.9 563.3,880.2 559.5,881.5 555.8,882.8 552.0,884.1 548.2,885.4 544.4,886.7 540.6,888.0 536.8,889.1 532.9,890.1 529.0,890.9 525.0,891.3 521.0,891.5 517.0,891.4 513.0,891.0 509.1,890.2 505.3,889.2 501.5,887.9 497.8,886.3 494.3,884.4 490.9,882.2 487.7,879.9 484.6,877.4 481.6,874.8 478.6,872.1 475.6,869.4 472.6,866.7 469.7,864.1 466.7,861.4 463.7,858.7 460.7,856.0 457.8,853.4 454.8,850.7 451.8,848.0 448.9,845.3 445.9,842.7 442.9,840.0 439.9,837.3 437.0,834.6 434.0,832.0 431.0,829.3 428.0,826.6 425.1,823.9 422.1,821.3 419.1,818.6 416.1,815.9 413.2,813.2 410.2,810.5 407.2,807.9 404.3,805.2 401.3,802.5 398.3,799.8"/>
<polyline class="n" points="628.6,879.5 624.8,880.8 621.0,882.1 617.2,883.4 613.4,884.6 609.6,885.9 605.8,887.2 602.1,888.5 598.3,889.8 594.5,891.0 590.7,892.3 586.9,893.6 583.1,894.9 579.3,896.2 575.5,897.4 571.7,898.7 568.0,900.0 564.2,901.3 560.4,902.6 556.6,903.9 552.8,905.1 549.0,906.4 545.2,907.7 541.4,909.0 537.6,910.3 533.8,911.5 530.0,912.6 526.1,913.5 522.2,914.2 518.2,914.6 514.2,914.7 510.2,914.5 506.2,914.0 502.3,913.2 498.5,912.1 494.7,910.6 491.1,909.0 487.6,907.0 484.3,904.8 481.1,902.5 478.0,899.9 475.0,897.3 472.0,894.6 469.0,891.9 466.1,889.2 463.1,886.6 460.1,883.9 457.1,881.2 454.2,878.5 451.2,875.9 448.2,873.2 445.3,870.5 442.3,867.8 439.3,865.2 436.3,862.5 433.4,859.8 430.4,857.1 427.4,854.5 424.4,851.8 421.5,849.1 418.5,846.4 415.5,843.7 412.5,841.1 409.6,838.4 406.6,835.7 403.6,833.0 400.7,830.4 397.7,827.7"/>
<polyline class="n" points="618.0,903.5 614.2,904.8 610.4,906.1 606.6,907.3 602.8,908.6 599.0,909.9 595.2,911.1 591.4,912.4 587.7,913.7 583.9,915.0 580.1,916.2 576.3,917.5 572.5,918.8 568.7,920.0 564.9,921.3 561.1,922.6 557.3,923.8 553.5,925.1 549.7,926.4 545.9,927.6 542.1,928.9 538.3,930.2 534.5,931.4 530.7,932.7 526.9,933.8 523.0,934.7 519.1,935.3 515.1,935.7 511.1,935.8 507.1,935.6 503.1,935.1 499.2,934.3 495.4,933.2 491.6,931.7 488.0,930.1 484.5,928.1 481.2,925.9 478.0,923.6 474.9,921.0 471.9,918.4 468.9,915.7 465.9,913.0 463.0,910.3 460.0,907.7 457.0,905.0 454.0,902.3 451.1,899.6 448.1,897.0 445.1,894.3 442.1,891.6 439.2,888.9 436.2,886.3 433.2,883.6 430.3,880.9 427.3,878.2 424.3,875.6 421.3,872.9 418.4,870.2 415.4,867.5 412.4,864.8 409.4,862.2 406.5,859.5 403.5,856.8 400.5,854.1"/>
<polyline class="n" points="609.7,926.4 605.9,927.6 602.1,928.9 598.4,930.1 594.6,931.4 590.8,932.6 587.0,933.9 583.2,935.2 579.4,936.4 575.6,937.7 571.8,938.9 568.0,940.2 564.2,941.4 560.4,942.7 556.6,944.0 552.8,945.2 549.0,946.5 545.2,947.7 541.4,949.0 537.6,950.2 533.8,951.5 530.0,952.8 526.2,953.9 522.3,954.9 518.4,955.7 514.4,956.2 510.4,956.4 506.4,956.4 502.4,956.0 498.5,955.3 494.6,954.4 490.8,953.1 487.2,951.5 483.6,949.7 480.2,947.7 476.9,945.4 473.8,942.9 470.7,940.3 467.7,937.6 464.8,934.9 461.8,932.3 458.8,929.6 455.8,926.9 452.9,924.2 449.9,921.6 446.9,918.9 443.9,916.2 441.0,913.5 438.0,910.9 435.0,908.2 432.1,905.5 429.1,902.8 426.1,900.2 423.1,897.5 420.2,894.8 417.2,892.1 414.2,889.5 411.2,886.8 408.3,884.1 405.3,881.4 402.3,878.8 399.4,876.1"/>
<polyline class="n" points="602.0,948.0 598.2,949.3 594.4,950.5 590.6,951.8 586.8,953.0 583.0,954.3 579.2,955.5 575.4,956.8 571.6,958.0 567.8,959.3 564.0,960.5 560.2,961.7 556.4,963.0 552.6,964.2 548.8,965.5 545.0,966.7 541.2,968.0 537.4,969.2 533.6,970.5 529.8,971.7 525.9,972.9 522.1,974.0 518.2,974.7 514.2,975.3 510.2,975.6 506.2,975.6 502.2,975.3 498.3,974.7 494.4,973.9 490.6,972.6 486.9,971.1 483.3,969.4 479.8,967.4 476.5,965.1 473.3,962.7 470.3,960.2 467.3,957.5 464.3,954.8 461.3,952.1 458.4,949.5 455.4,946.8 452.4,944.1 449.4,941.4 446.5,938.8 443.5,936.1 440.5,933.4 437.6,930.7 434.6,928.0 431.6,925.4 428.6,922.7 425.7,920.0 422.7,917.3 419.7,914.7 416.7,912.0 413.8,909.3 410.8,906.6 407.8,904.0 404.9,901.3 401.9,898.6 398.9,895.9"/>
<polyline class="n" points="595.1,968.6 591.3,969.9 587.5,971.1 583.7,972.3 579.9,973.6 576.1,974.8 572.3,976.1 568.5,977.3 564.7,978.5 560.9,979.8 557.1,981.0 553.3,982.2 549.5,983.5 545.7,984.7 541.9,985.9 538.1,987.2 534.2,988.4 530.4,989.6 526.6,990.8 522.8,991.9 518.9,992.8 514.9,993.4 510.9,993.8 506.9,993.8 503.0,993.6 499.0,993.1 495.1,992.3 491.3,991.1 487.5,989.7 483.9,988.0 480.4,986.1 477.1,983.9 473.8,981.5 470.7,979.0 467.7,976.3 464.8,973.6 461.8,971.0 458.8,968.3 455.9,965.6 452.9,962.9 449.9,960.3 446.9,957.6 444.0,954.9 441.0,952.2 438.0,949.6 435.0,946.9 432.1,944.2 429.1,941.5 426.1,938.8 423.2,936.2 420.2,933.5 417.2,930.8 414.2,928.1 411.3,925.5 408.3,922.8 405.3,920.1 402.3,917.4 399.4,914.8"/>
<polyline class="n" points="588.8,988.2 585.0,989.4 581.2,990.7 577.4,991.9 573.6,993.1 569.8,994.3 566.0,995.6 562.2,996.8 558.4,998.0 554.5,999.2 550.7,1000.5 546.9,1001.7 543.1,1002.9 539.3,1004.1 535.5,1005.4 531.7,1006.6 527.9,1007.8 524.0,1008.9 520.1,1009.8 516.2,1010.5 512.2,1010.9 508.2,1011.0 504.2,1010.9 500.3,1010.5 496.3,1009.7 492.5,1008.6 488.7,1007.3 485.1,1005.6 481.6,1003.7 478.2,1001.6 474.9,999.3 471.8,996.8 468.8,994.2 465.8,991.5 462.8,988.8 459.9,986.1 456.9,983.5 453.9,980.8 450.9,978.1 448.0,975.4 445.0,972.8 442.0,970.1 439.1,967.4 436.1,964.7 433.1,962.0 430.1,959.4 427.2,956.7 424.2,954.0 421.2,951.3 418.2,948.7 415.3,946.0 412.3,943.3 409.3,940.6 406.3,938.0 403.4,935.3 400.4,932.6"/>
<polyline class="n" points="583.6,1006.8 579.8,1008.0 575.9,1009.2 572.1,1010.4 568.3,1011.6 564.5,1012.9 560.7,1014.1 556.9,1015.3 553.1,1016.5 549.3,1017.7 545.5,1018.9 541.6,1020.1 537.8,1021.4 534.0,1022.6 530.2,1023.7 526.3,1024.8 522.4,1025.6 518.5,1026.2 514.5,1026.6 510.5,1026.6 506.5,1026.4 502.5,1025.9 498.6,1025.0 494.8,1023.9 491.1,1022.4 487.4,1020.8 484.0,1018.8 480.6,1016.6 477.4,1014.3 474.3,1011.7 471.3,1009.1 468.3,1006.4 465.4,1003.7 462.4,1001.0 459.4,998.4 456.4,995.7 453.5,993.0 450.5,990.3 447.5,987.7 444.5,985.0 441.6,982.3 438.6,979.6 435.6,977.0 432.7,974.3 429.7,971.6 426.7,968.9 423.7,966.3 420.8,963.6 417.8,960.9 414.8,958.2 411.8,955.6 408.9,952.9 405.9,950.2 402.9,947.5"/>
<polyline class="n" points="578.7,1024.5 574.9,1025.7 571.1,1026.8 567.3,1028.0 563.5,1029.2 559.7,1030.4 555.8,1031.6 552.0,1032.8 548.2,1034.0 544.4,1035.2 540.6,1036.4 536.8,1037.6 532.9,1038.8 529.1,1039.8 525.1,1040.6 521.2,1041.2 517.2,1041.6 513.2,1041.6 509.2,1041.3 505.3,1040.8 501.4,1040.0 497.5,1038.8 493.8,1037.4 490.2,1035.7 486.7,1033.7 483.3,1031.6 480.1,1029.2 477.0,1026.6 474.0,1024.0 471.1,1021.3 468.1,1018.7 465.1,1016.0 462.1,1013.3 459.2,1010.6 456.2,1008.0 453.2,1005.3 450.2,1002.6 447.3,999.9 444.3,997.2 441.3,994.6 438.3,991.9 435.4,989.2 432.4,986.5 429.4,983.9 426.5,981.2 423.5,978.5 420.5,975.8 417.5,973.2 414.6,970.5 411.6,967.8 408.6,965.1 405.6,962.5 402.7,959.8"/>
<polyline class="n" points="575.7,1041.2 571.9,1042.4 568.1,1043.6 564.3,1044.8 560.4,1046.0 556.6,1047.1 552.8,1048.3 549.0,1049.5 545.2,1050.7 541.3,1051.9 537.5,1053.0 533.7,1054.1 529.8,1055.1 525.8,1055.8 521.9,1056.2 517.9,1056.4 513.9,1056.3 509.9,1055.8 506.0,1055.1 502.1,1054.1 498.3,1052.9 494.6,1051.3 491.1,1049.4 487.6,1047.4 484.4,1045.1 481.2,1042.6 478.2,1040.1 475.2,1037.4 472.2,1034.7 469.2,1032.0 466.3,1029.4 463.3,1026.7 460.3,1024.0 457.4,1021.3 454.4,1018.7 451.4,1016.0 448.4,1013.3 445.5,1010.6 442.5,1008.0 439.5,1005.3 436.5,1002.6 433.6,999.9 430.6,997.3 427.6,994.6 424.7,991.9 421.7,989.2 418.7,986.5 415.7,983.9 412.8,981.2 409.8,978.5 406.8,975.8"/>
<polyline class="n" points="572.9,1057.2 569.0,1058.3 565.2,1059.5 561.4,1060.7 557.6,1061.8 553.7,1063.0 549.9,1064.2 546.1,1065.3 542.3,1066.5 538.4,1067.6 534.5,1068.5 530.6,1069.2 526.6,1069.7 522.6,1069.9 518.6,1069.8 514.6,1069.3 510.7,1068.6 506.8,1067.6 503.0,1066.4 499.4,1064.8 495.8,1062.9 492.4,1060.9 489.1,1058.6 486.0,1056.1 483.0,1053.5 480.0,1050.8 477.0,1048.1 474.0,1045.4 471.1,1042.8 468.1,1040.1 465.1,1037.4 462.2,1034.7 459.2,1032.1 456.2,1029.4 453.2,1026.7 450.3,1024.0 447.3,1021.4 444.3,1018.7 441.3,1016.0 438.4,1013.3 435.4,1010.7 432.4,1008.0 429.5,1005.3 426.5,1002.6 423.5,1000.0 420.5,997.3 417.6,994.6 414.6,991.9 411.6,989.3 408.6,986.6"/>
<polyline class="n" points="572.6,1072.3 568.8,1073.5 564.9,1074.6 561.1,1075.8 557.3,1076.9 553.5,1078.1 549.6,1079.2 545.8,1080.4 541.9,1081.4 538.0,1082.3 534.1,1083.0 530.1,1083.3 526.1,1083.3 522.1,1083.0 518.2,1082.3 514.3,1081.3 510.5,1080.0 506.9,1078.4 503.4,1076.4 500.1,1074.2 496.9,1071.8 493.8,1069.2 490.8,1066.6 487.9,1063.9 484.9,1061.2 481.9,1058.5 478.9,1055.9 476.0,1053.2 473.0,1050.5 470.0,1047.8 467.0,1045.2 464.1,1042.5 461.1,1039.8 458.1,1037.1 455.2,1034.4 452.2,1031.8 449.2,1029.1 446.2,1026.4 443.3,1023.7 440.3,1021.1 437.3,1018.4 434.3,1015.7 431.4,1013.0 428.4,1010.4 425.4,1007.7 422.4,1005.0 419.5,1002.3 416.5,999.7 413.5,997.0"/>
<polyline class="n" points="573.5,1086.7 569.6,1087.8 565.8,1089.0 561.9,1090.1 558.1,1091.3 554.3,1092.4 550.4,1093.5 546.6,1094.6 542.7,1095.5 538.7,1096.0 534.7,1096.3 530.7,1096.2 526.8,1095.6 522.9,1094.8 519.1,1093.5 515.4,1091.8 512.0,1089.9 508.7,1087.6 505.5,1085.1 502.5,1082.5 499.5,1079.8 496.6,1077.2 493.6,1074.5 490.6,1071.8 487.6,1069.1 484.7,1066.5 481.7,1063.8 478.7,1061.1 475.8,1058.4 472.8,1055.8 469.8,1053.1 466.8,1050.4 463.9,1047.7 460.9,1045.1 457.9,1042.4 454.9,1039.7 452.0,1037.0 449.0,1034.3 446.0,1031.7 443.0,1029.0 440.1,1026.3 437.1,1023.6 434.1,1021.0 431.2,1018.3 428.2,1015.6 425.2,1012.9 422.2,1010.3 419.3,1007.6 416.3,1004.9 413.3,1002.2"/>
<polyline class="n" points="574.3,1100.4 570.4,1101.5 566.6,1102.6 562.7,1103.7 558.9,1104.9 555.1,1106.0 551.2,1107.1 547.3,1108.0 543.4,1108.5 539.4,1108.7 535.4,1108.5 531.4,1107.8 527.6,1106.7 523.9,1105.2 520.4,1103.3 517.0,1101.1 513.9,1098.7 510.9,1096.0 507.9,1093.3 505.0,1090.7 502.0,1088.0 499.0,1085.3 496.0,1082.6 493.1,1080.0 490.1,1077.3 487.1,1074.6 484.1,1071.9 481.2,1069.3 478.2,1066.6 475.2,1063.9 472.2,1061.2 469.3,1058.6 466.3,1055.9 463.3,1053.2 460.4,1050.5 457.4,1047.8 454.4,1045.2 451.4,1042.5 448.5,1039.8 445.5,1037.1 442.5,1034.5 439.5,1031.8 436.6,1029.1 433.6,1026.4 430.6,1023.8 427.7,1021.1 424.7,1018.4 421.7,1015.7 418.7,1013.1 415.8,1010.4"/>
<polyline class="n" points="575.0,1113.3 571.2,1114.5 567.3,1115.6 563.5,1116.7 559.7,1117.8 555.8,1118.9 551.9,1119.7 547.9,1120.1 543.9,1120.1 540.0,1119.5 536.1,1118.4 532.4,1116.8 529.0,1114.8 525.8,1112.4 522.8,1109.8 519.8,1107.1 516.8,1104.4 513.9,1101.7 510.9,1099.1 507.9,1096.4 505.0,1093.7 502.0,1091.0 499.0,1088.4 496.0,1085.7 493.1,1083.0 490.1,1080.3 487.1,1077.7 484.1,1075.0 481.2,1072.3 478.2,1069.6 475.2,1066.9 472.2,1064.3 469.3,1061.6 466.3,1058.9 463.3,1056.2 460.4,1053.6 457.4,1050.9 454.4,1048.2 451.4,1045.5 448.5,1042.9 445.5,1040.2 442.5,1037.5 439.5,1034.8 436.6,1032.2 433.6,1029.5 430.6,1026.8 427.7,1024.1 424.7,1021.5 421.7,1018.8 418.7,1016.1"/>
<polyline class="n" points="575.7,1125.5 571.9,1126.6 568.0,1127.7 564.2,1128.8 560.3,1129.9 556.4,1130.7 552.4,1130.8 548.4,1130.4 544.6,1129.3 541.0,1127.6 537.7,1125.4 534.6,1122.8 531.6,1120.1 528.7,1117.4 525.7,1114.7 522.7,1112.1 519.8,1109.4 516.8,1106.7 513.8,1104.0 510.8,1101.4 507.9,1098.7 504.9,1096.0 501.9,1093.3 498.9,1090.7 496.0,1088.0 493.0,1085.3 490.0,1082.6 487.0,1080.0 484.1,1077.3 481.1,1074.6 478.1,1071.9 475.2,1069.3 472.2,1066.6 469.2,1063.9 466.2,1061.2 463.3,1058.5 460.3,1055.9 457.3,1053.2 454.3,1050.5 451.4,1047.8 448.4,1045.2 445.4,1042.5 442.5,1039.8 439.5,1037.1 436.5,1034.5 433.5,1031.8 430.6,1029.1 427.6,1026.4 424.6,1023.8 421.6,1021.1 418.7,1018.4"/>
<polyline class="n" points="576.4,1137.0 572.5,1138.1 568.7,1139.2 564.8,1140.2 560.9,1140.8 556.9,1140.6 553.0,1139.5 549.5,1137.6 546.4,1135.1 543.4,1132.4 540.5,1129.7 537.5,1127.1 534.5,1124.4 531.5,1121.7 528.6,1119.0 525.6,1116.4 522.6,1113.7 519.7,1111.0 516.7,1108.3 513.7,1105.7 510.7,1103.0 507.8,1100.3 504.8,1097.6 501.8,1094.9 498.8,1092.3 495.9,1089.6 492.9,1086.9 489.9,1084.2 486.9,1081.6 484.0,1078.9 481.0,1076.2 478.0,1073.5 475.1,1070.9 472.1,1068.2 469.1,1065.5 466.1,1062.8 463.2,1060.2 460.2,1057.5 457.2,1054.8 454.2,1052.1 451.3,1049.5 448.3,1046.8 445.3,1044.1 442.4,1041.4 439.4,1038.8 436.4,1036.1 433.4,1033.4 430.5,1030.7 427.5,1028.1 424.5,1025.4 421.5,1022.7 418.6,1020.0"/>
<polyline class="n" points="577.0,1147.7 573.1,1148.8 569.3,1149.9 565.3,1150.3 561.4,1149.6 557.9,1147.6 554.9,1145.0 551.9,1142.3 549.0,1139.6 546.0,1136.9 543.0,1134.3 540.1,1131.6 537.1,1128.9 534.1,1126.2 531.1,1123.5 528.2,1120.9 525.2,1118.2 522.2,1115.5 519.2,1112.8 516.3,1110.2 513.3,1107.5 510.3,1104.8 507.4,1102.1 504.4,1099.5 501.4,1096.8 498.4,1094.1 495.5,1091.4 492.5,1088.8 489.5,1086.1 486.5,1083.4 483.6,1080.7 480.6,1078.1 477.6,1075.4 474.6,1072.7 471.7,1070.0 468.7,1067.4 465.7,1064.7 462.8,1062.0 459.8,1059.3 456.8,1056.7 453.8,1054.0 450.9,1051.3 447.9,1048.6 444.9,1045.9 441.9,1043.3 439.0,1040.6 436.0,1037.9 433.0,1035.2 430.0,1032.6 427.1,1029.9 424.1,1027.2 421.1,1024.5"/>
<polyline class="n" points="577.5,1157.8 573.7,1158.9 569.7,1159.0 566.4,1156.9 563.4,1154.2 560.4,1151.5 557.5,1148.9 554.5,1146.2 551.5,1143.5 548.5,1140.8 545.6,1138.2 542.6,1135.5 539.6,1132.8 536.6,1130.1 533.7,1127.5 530.7,1124.8 527.7,1122.1 524.8,1119.4 521.8,1116.8 518.8,1114.1 515.8,1111.4 512.9,1108.7 509.9,1106.1 506.9,1103.4 503.9,1100.7 501.0,1098.0 498.0,1095.3 495.0,1092.7 492.0,1090.0 489.1,1087.3 486.1,1084.6 483.1,1082.0 480.2,1079.3 477.2,1076.6 474.2,1073.9 471.2,1071.3 468.3,1068.6 465.3,1065.9 462.3,1063.2 459.3,1060.6 456.4,1057.9 453.4,1055.2 450.4,1052.5 447.4,1049.9 444.5,1047.2 441.5,1044.5 438.5,1041.8 435.6,1039.2 432.6,1036.5 429.6,1033.8 426.6,1031.1 423.7,1028.5 420.7,1025.8"/>
<polyline class="n" points="396.5,701.0 396.5,706.0 396.5,711.0 396.5,716.0 396.4,721.0 396.4,726.0 396.4,731.0 396.4,736.0 396.4,741.0 396.4,746.0 396.3,751.0 396.3,756.0 396.3,761.0 396.3,766.0 396.3,771.0 396.3,776.0 396.3,781.0 396.2,786.0 396.2,791.0 396.2,796.0 396.2,801.0 396.2,806.0 396.1,811.0 396.1,816.0 396.1,821.0 396.1,826.0 396.1,831.0 396.0,836.0 396.0,841.0 396.0,846.0 396.0,851.0 395.9,856.0 395.9,861.0 395.9,866.0 395.9,871.0 395.8,876.0 395.8,881.0 395.8,886.0 396.1,891.0 396.3,896.0 396.6,901.0 396.9,906.0 397.2,911.0 397.4,916.0 397.7,920.9 398.0,925.9 398.6,930.9 399.3,935.9 399.9,940.8 400.6,945.8 401.2,950.7 401.9,955.7 402.5,960.6"/>
</g>
<polyline points="388.6,886.0 391.0,927.0 396.0,964.6 404.8,1002.0 417.0,1037.0 434.7,1066.8 459.6,1096.7 489.5,1121.6 519.4,1142.8 549.3,1160.0 573.0,1172.7" fill="none" stroke="#000" stroke-width="7.4" stroke-linejoin="round"/>
<g stroke="#222" fill="#222">
<line x1="1468.2" y1="183.2" x2="1010" y2="362.4" stroke-width="4"/>
<path d="M996.3 367.7 L1024.5 344.5 L1017.5 359.5 L1026 372.5 Z" stroke="none"/>
</g>
<g font-size="75">
<text x="254.5" y="154.2" text-anchor="end">6</text>
<text x="255.5" y="424.3" text-anchor="end">5.5</text>
<text x="254.5" y="694.5" text-anchor="end">5</text>
<text x="255.5" y="965.0" text-anchor="end">4.5</text>
<text x="254.5" y="1234.0" text-anchor="end">4</text>
<text x="274.0" y="1302" text-anchor="middle">2</text>
<text x="563.0" y="1302" text-anchor="middle">2.5</text>
<text x="853.0" y="1302" text-anchor="middle">3</text>
<text x="1141.0" y="1302" text-anchor="middle">3.5</text>
<text x="1428.5" y="1302" text-anchor="middle">4</text>
<text x="1718.0" y="1302" text-anchor="middle">4.5</text>
</g>
<text x="303.5" y="118.0" font-size="88" text-anchor="middle" style="fill:#5a5a5a">×</text>
<text x="334.0" y="110.0" font-size="76" textLength="80.5" lengthAdjust="spacingAndGlyphs">10</text>
<text x="414.0" y="74.5" font-size="60">5</text>
<text x="1576.5" y="1423.5" font-size="88" text-anchor="middle" style="fill:#5a5a5a">×</text>
<text x="1606.5" y="1414.5" font-size="76" textLength="80.5" lengthAdjust="spacingAndGlyphs">10</text>
<text x="1685.0" y="1381.0" font-size="60">5</text>
<text x="997" y="1402" font-size="79" text-anchor="middle">Lifecycle Cost (AU$)</text>
<text transform="translate(92.5 666) rotate(-90)" font-size="79" text-anchor="middle"><tspan letter-spacing="-0.17">Lifecycle GHG Emissions (kg CO</tspan><tspan dx="2.5" dy="37" font-size="64">2</tspan><tspan dx="2.5" dy="-37">-e)</tspan></text>
<text transform="translate(1019 301) rotate(-20.9)" font-size="67" fill="#000" style="fill:#000">Fixed PV size</text>
</g>
</svg></body></html>
